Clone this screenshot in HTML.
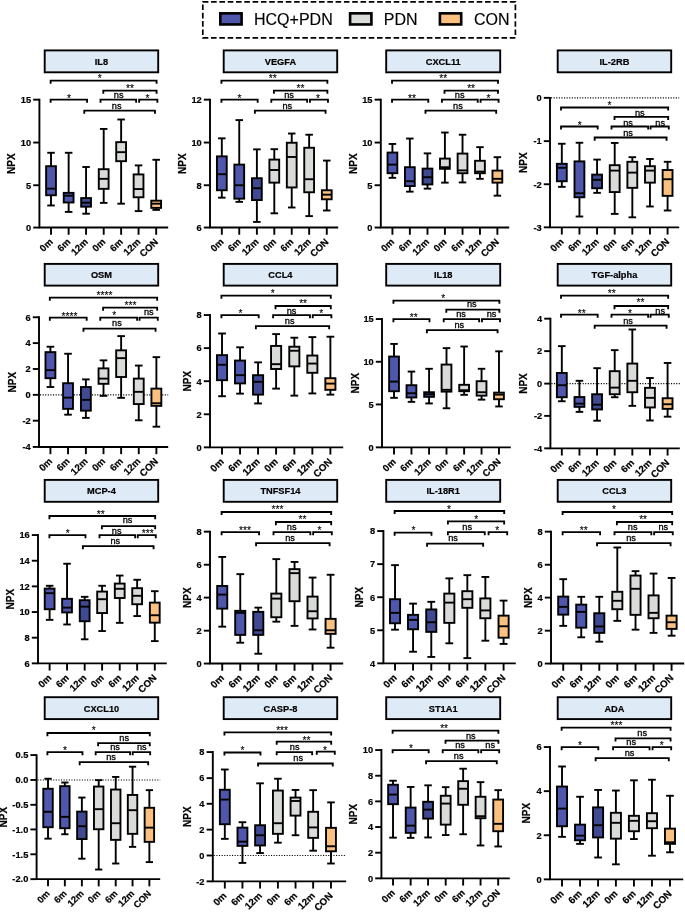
<!DOCTYPE html>
<html><head><meta charset="utf-8"><title>NPX box plots</title>
<style>
html,body{margin:0;padding:0;background:#fff;}
body{width:685px;height:913px;overflow:hidden;font-family:"Liberation Sans",sans-serif;}
svg{display:block;will-change:transform}
svg *{stroke:#000}
text{fill:#000;stroke:#000;paint-order:stroke;stroke-linejoin:round;font-family:"Liberation Sans",sans-serif;}
.b{font-size:9.25px;font-weight:bold;stroke-width:.2px}
.n{font-size:10px;font-weight:bold;stroke-width:.2px}
.x{font-size:9.9px;font-weight:bold;stroke-width:.2px}
.s{font-size:9.2px;stroke-width:.3px}
.a{font-size:10.2px;stroke-width:.12px}
.l{font-size:16px;stroke-width:.15px}
</style></head><body>
<svg width="685" height="913" viewBox="0 0 685 913">
<rect x="0" y="0" width="685" height="913" fill="#fff" stroke="none" style="stroke:none"/>
<rect x="202.8" y="1.8" width="312.6" height="36" fill="none" stroke-width="1.7" stroke-dasharray="5.6 2.7"/>
<rect x="220.3" y="13.35" width="21.3" height="11.1" fill="#4E57AB" stroke-width="2.6"/>
<text class="l" x="254" y="24.9">HCQ+PDN</text>
<rect x="350.1" y="13.35" width="21.3" height="11.1" fill="#D9DBD8" stroke-width="2.6"/>
<text class="l" x="383.8" y="24.9">PDN</text>
<rect x="439.9" y="13.35" width="21.3" height="11.1" fill="#FAC080" stroke-width="2.6"/>
<text class="l" x="474" y="24.9">CON</text>
<g><!-- IL8 -->
<rect x="44.7" y="50.4" width="113.5" height="21.9" fill="#DEEAF6" stroke-width="1.9"/>
<text class="b" x="101.45" y="64.85" text-anchor="middle">IL8</text>
<line x1="51.02" y1="152.77" x2="51.02" y2="166.2" stroke-width="1.9"/>
<line x1="51.02" y1="195.27" x2="51.02" y2="205.49" stroke-width="1.9"/>
<line x1="47.26" y1="152.77" x2="54.79" y2="152.77" stroke-width="1.9"/>
<line x1="47.26" y1="205.49" x2="54.79" y2="205.49" stroke-width="1.9"/>
<rect x="46.12" y="166.2" width="9.81" height="29.06" fill="#4E57AB" stroke-width="1.9"/>
<line x1="46.12" y1="188.65" x2="55.93" y2="188.65" stroke-width="1.9"/>
<line x1="68.65" y1="152.77" x2="68.65" y2="192.86" stroke-width="1.9"/>
<line x1="68.65" y1="202.48" x2="68.65" y2="211.9" stroke-width="1.9"/>
<line x1="64.88" y1="152.77" x2="72.42" y2="152.77" stroke-width="1.9"/>
<line x1="64.88" y1="211.9" x2="72.42" y2="211.9" stroke-width="1.9"/>
<rect x="63.74" y="192.86" width="9.81" height="9.62" fill="#4E57AB" stroke-width="1.9"/>
<line x1="63.74" y1="195.67" x2="73.56" y2="195.67" stroke-width="1.9"/>
<line x1="86.07" y1="167.01" x2="86.07" y2="198.07" stroke-width="1.9"/>
<line x1="86.07" y1="206.69" x2="86.07" y2="213.71" stroke-width="1.9"/>
<line x1="82.31" y1="167.01" x2="89.84" y2="167.01" stroke-width="1.9"/>
<line x1="82.31" y1="213.71" x2="89.84" y2="213.71" stroke-width="1.9"/>
<rect x="81.17" y="198.07" width="9.81" height="8.62" fill="#3F4A92" stroke-width="1.9"/>
<line x1="81.17" y1="202.68" x2="90.98" y2="202.68" stroke-width="1.9"/>
<line x1="103.7" y1="128.92" x2="103.7" y2="169.21" stroke-width="1.9"/>
<line x1="103.7" y1="188.85" x2="103.7" y2="202.88" stroke-width="1.9"/>
<line x1="99.93" y1="128.92" x2="107.47" y2="128.92" stroke-width="1.9"/>
<line x1="99.93" y1="202.88" x2="107.47" y2="202.88" stroke-width="1.9"/>
<rect x="98.79" y="169.21" width="9.81" height="19.64" fill="#D9DBD8" stroke-width="1.9"/>
<line x1="98.79" y1="178.83" x2="108.61" y2="178.83" stroke-width="1.9"/>
<line x1="121.13" y1="119.5" x2="121.13" y2="142.15" stroke-width="1.9"/>
<line x1="121.13" y1="161.19" x2="121.13" y2="203.69" stroke-width="1.9"/>
<line x1="117.36" y1="119.5" x2="124.89" y2="119.5" stroke-width="1.9"/>
<line x1="117.36" y1="203.69" x2="124.89" y2="203.69" stroke-width="1.9"/>
<rect x="116.22" y="142.15" width="9.81" height="19.04" fill="#D9DBD8" stroke-width="1.9"/>
<line x1="116.22" y1="152.17" x2="126.03" y2="152.17" stroke-width="1.9"/>
<line x1="138.55" y1="165.4" x2="138.55" y2="174.42" stroke-width="1.9"/>
<line x1="138.55" y1="197.27" x2="138.55" y2="211.1" stroke-width="1.9"/>
<line x1="134.78" y1="165.4" x2="142.32" y2="165.4" stroke-width="1.9"/>
<line x1="134.78" y1="211.1" x2="142.32" y2="211.1" stroke-width="1.9"/>
<rect x="133.64" y="174.42" width="9.81" height="22.85" fill="#D9DBD8" stroke-width="1.9"/>
<line x1="133.64" y1="189.05" x2="143.46" y2="189.05" stroke-width="1.9"/>
<line x1="156.18" y1="159.79" x2="156.18" y2="200.68" stroke-width="1.9"/>
<line x1="156.18" y1="207.89" x2="156.18" y2="209.9" stroke-width="1.9"/>
<line x1="152.41" y1="159.79" x2="159.94" y2="159.79" stroke-width="1.9"/>
<line x1="152.41" y1="209.9" x2="159.94" y2="209.9" stroke-width="1.9"/>
<rect x="151.27" y="200.68" width="9.81" height="7.22" fill="#FAC080" stroke-width="1.9"/>
<line x1="151.27" y1="203.69" x2="161.08" y2="203.69" stroke-width="1.9"/>
<path d="M39.41 98.71V227.54H168.19" fill="none" stroke-width="1.9"/>
<line x1="33.21" y1="99.66" x2="39.41" y2="99.66" stroke-width="1.9"/>
<text class="b" x="31.11" y="102.96" text-anchor="end">15</text>
<line x1="33.21" y1="142.55" x2="39.41" y2="142.55" stroke-width="1.9"/>
<text class="b" x="31.11" y="145.85" text-anchor="end">10</text>
<line x1="33.21" y1="185.25" x2="39.41" y2="185.25" stroke-width="1.9"/>
<text class="b" x="31.11" y="188.55" text-anchor="end">5</text>
<line x1="33.21" y1="227.54" x2="39.41" y2="227.54" stroke-width="1.9"/>
<text class="b" x="31.11" y="230.84" text-anchor="end">0</text>
<text class="n" transform="translate(14.82,163.6) rotate(-90)" text-anchor="middle">NPX</text>
<line x1="51.02" y1="227.54" x2="51.02" y2="234.74" stroke-width="1.9"/>
<text class="x" style="font-size:9.61px" transform="translate(53.42,242.54) rotate(-45)" text-anchor="end">0m</text>
<line x1="68.65" y1="227.54" x2="68.65" y2="234.74" stroke-width="1.9"/>
<text class="x" style="font-size:9.61px" transform="translate(71.05,242.54) rotate(-45)" text-anchor="end">6m</text>
<line x1="86.07" y1="227.54" x2="86.07" y2="234.74" stroke-width="1.9"/>
<text class="x" style="font-size:9.61px" transform="translate(88.47,242.54) rotate(-45)" text-anchor="end">12m</text>
<line x1="103.7" y1="227.54" x2="103.7" y2="234.74" stroke-width="1.9"/>
<text class="x" style="font-size:9.61px" transform="translate(106.1,242.54) rotate(-45)" text-anchor="end">0m</text>
<line x1="121.13" y1="227.54" x2="121.13" y2="234.74" stroke-width="1.9"/>
<text class="x" style="font-size:9.61px" transform="translate(123.53,242.54) rotate(-45)" text-anchor="end">6m</text>
<line x1="138.55" y1="227.54" x2="138.55" y2="234.74" stroke-width="1.9"/>
<text class="x" style="font-size:9.61px" transform="translate(140.95,242.54) rotate(-45)" text-anchor="end">12m</text>
<line x1="156.18" y1="227.54" x2="156.18" y2="234.74" stroke-width="1.9"/>
<text class="x" style="font-size:9.61px" transform="translate(158.58,242.54) rotate(-45)" text-anchor="end">CON</text>
<path d="M50.62 83.72V80.62H156.58V83.72" fill="none" stroke-width="1.85"/>
<text class="a" x="99.69" y="82.11" text-anchor="middle">*</text>
<path d="M103.3 93.74V90.64H156.58V93.74" fill="none" stroke-width="1.85"/>
<text class="a" x="129.94" y="92.13" text-anchor="middle">**</text>
<path d="M50.62 102.76V99.66H87.08V102.76" fill="none" stroke-width="1.85"/>
<text class="a" x="69.05" y="101.95" text-anchor="middle">*</text>
<path d="M100.5 102.76V99.66H136.15V102.76" fill="none" stroke-width="1.85"/>
<text class="s" x="118.72" y="97.95" text-anchor="middle">ns</text>
<path d="M139.15 102.76V99.66H157.38V102.76" fill="none" stroke-width="1.85"/>
<text class="a" x="147.36" y="101.95" text-anchor="middle">*</text>
<path d="M84.27 113.78V110.68H154.98V113.78" fill="none" stroke-width="1.85"/>
<text class="s" x="116.72" y="108.57" text-anchor="middle">ns</text>
</g>
<g><!-- VEGFA -->
<rect x="223.7" y="50.4" width="113.5" height="21.9" fill="#DEEAF6" stroke-width="1.9"/>
<text class="b" x="280.45" y="64.85" text-anchor="middle">VEGFA</text>
<line x1="221.82" y1="138.34" x2="221.82" y2="156.38" stroke-width="1.9"/>
<line x1="221.82" y1="190.26" x2="221.82" y2="197.67" stroke-width="1.9"/>
<line x1="218.06" y1="138.34" x2="225.59" y2="138.34" stroke-width="1.9"/>
<line x1="218.06" y1="197.67" x2="225.59" y2="197.67" stroke-width="1.9"/>
<rect x="216.93" y="156.38" width="9.8" height="33.87" fill="#4E57AB" stroke-width="1.9"/>
<line x1="216.93" y1="174.22" x2="226.72" y2="174.22" stroke-width="1.9"/>
<line x1="239.25" y1="120.1" x2="239.25" y2="164.6" stroke-width="1.9"/>
<line x1="239.25" y1="198.67" x2="239.25" y2="201.88" stroke-width="1.9"/>
<line x1="235.49" y1="120.1" x2="243.01" y2="120.1" stroke-width="1.9"/>
<line x1="235.49" y1="201.88" x2="243.01" y2="201.88" stroke-width="1.9"/>
<rect x="234.35" y="164.6" width="9.8" height="34.07" fill="#4E57AB" stroke-width="1.9"/>
<line x1="234.35" y1="185.25" x2="244.15" y2="185.25" stroke-width="1.9"/>
<line x1="256.88" y1="149.37" x2="256.88" y2="178.23" stroke-width="1.9"/>
<line x1="256.88" y1="200.08" x2="256.88" y2="221.93" stroke-width="1.9"/>
<line x1="253.11" y1="149.37" x2="260.64" y2="149.37" stroke-width="1.9"/>
<line x1="253.11" y1="221.93" x2="260.64" y2="221.93" stroke-width="1.9"/>
<rect x="251.98" y="178.23" width="9.8" height="21.85" fill="#3F4A92" stroke-width="1.9"/>
<line x1="251.98" y1="188.25" x2="261.77" y2="188.25" stroke-width="1.9"/>
<line x1="274.3" y1="149.17" x2="274.3" y2="159.59" stroke-width="1.9"/>
<line x1="274.3" y1="182.64" x2="274.3" y2="213.31" stroke-width="1.9"/>
<line x1="270.54" y1="149.17" x2="278.06" y2="149.17" stroke-width="1.9"/>
<line x1="270.54" y1="213.31" x2="278.06" y2="213.31" stroke-width="1.9"/>
<rect x="269.4" y="159.59" width="9.8" height="23.05" fill="#D9DBD8" stroke-width="1.9"/>
<line x1="269.4" y1="170.01" x2="279.2" y2="170.01" stroke-width="1.9"/>
<line x1="291.73" y1="133.53" x2="291.73" y2="142.75" stroke-width="1.9"/>
<line x1="291.73" y1="187.45" x2="291.73" y2="207.49" stroke-width="1.9"/>
<line x1="287.97" y1="133.53" x2="295.49" y2="133.53" stroke-width="1.9"/>
<line x1="287.97" y1="207.49" x2="295.49" y2="207.49" stroke-width="1.9"/>
<rect x="286.83" y="142.75" width="9.8" height="44.7" fill="#D9DBD8" stroke-width="1.9"/>
<line x1="286.83" y1="156.98" x2="296.62" y2="156.98" stroke-width="1.9"/>
<line x1="309.15" y1="134.73" x2="309.15" y2="147.76" stroke-width="1.9"/>
<line x1="309.15" y1="192.26" x2="309.15" y2="216.11" stroke-width="1.9"/>
<line x1="305.39" y1="134.73" x2="312.91" y2="134.73" stroke-width="1.9"/>
<line x1="305.39" y1="216.11" x2="312.91" y2="216.11" stroke-width="1.9"/>
<rect x="304.25" y="147.76" width="9.8" height="44.5" fill="#D9DBD8" stroke-width="1.9"/>
<line x1="304.25" y1="179.23" x2="314.05" y2="179.23" stroke-width="1.9"/>
<line x1="326.78" y1="160.59" x2="326.78" y2="190.26" stroke-width="1.9"/>
<line x1="326.78" y1="199.28" x2="326.78" y2="210.5" stroke-width="1.9"/>
<line x1="323.02" y1="160.59" x2="330.54" y2="160.59" stroke-width="1.9"/>
<line x1="323.02" y1="210.5" x2="330.54" y2="210.5" stroke-width="1.9"/>
<rect x="321.88" y="190.26" width="9.8" height="9.02" fill="#FAC080" stroke-width="1.9"/>
<line x1="321.88" y1="194.67" x2="331.68" y2="194.67" stroke-width="1.9"/>
<path d="M210.01 98.71V227.54H338.19" fill="none" stroke-width="1.9"/>
<line x1="203.81" y1="99.66" x2="210.01" y2="99.66" stroke-width="1.9"/>
<text class="b" x="201.71" y="102.96" text-anchor="end">12</text>
<line x1="203.81" y1="142.55" x2="210.01" y2="142.55" stroke-width="1.9"/>
<text class="b" x="201.71" y="145.85" text-anchor="end">10</text>
<line x1="203.81" y1="185.25" x2="210.01" y2="185.25" stroke-width="1.9"/>
<text class="b" x="201.71" y="188.55" text-anchor="end">8</text>
<line x1="203.81" y1="227.54" x2="210.01" y2="227.54" stroke-width="1.9"/>
<text class="b" x="201.71" y="230.84" text-anchor="end">6</text>
<text class="n" transform="translate(186.42,163.6) rotate(-90)" text-anchor="middle">NPX</text>
<line x1="221.82" y1="227.54" x2="221.82" y2="234.74" stroke-width="1.9"/>
<text class="x" style="font-size:9.6px" transform="translate(224.22,242.54) rotate(-45)" text-anchor="end">0m</text>
<line x1="239.25" y1="227.54" x2="239.25" y2="234.74" stroke-width="1.9"/>
<text class="x" style="font-size:9.6px" transform="translate(241.65,242.54) rotate(-45)" text-anchor="end">6m</text>
<line x1="256.88" y1="227.54" x2="256.88" y2="234.74" stroke-width="1.9"/>
<text class="x" style="font-size:9.6px" transform="translate(259.28,242.54) rotate(-45)" text-anchor="end">12m</text>
<line x1="274.3" y1="227.54" x2="274.3" y2="234.74" stroke-width="1.9"/>
<text class="x" style="font-size:9.6px" transform="translate(276.7,242.54) rotate(-45)" text-anchor="end">0m</text>
<line x1="291.73" y1="227.54" x2="291.73" y2="234.74" stroke-width="1.9"/>
<text class="x" style="font-size:9.6px" transform="translate(294.13,242.54) rotate(-45)" text-anchor="end">6m</text>
<line x1="309.15" y1="227.54" x2="309.15" y2="234.74" stroke-width="1.9"/>
<text class="x" style="font-size:9.6px" transform="translate(311.55,242.54) rotate(-45)" text-anchor="end">12m</text>
<line x1="326.78" y1="227.54" x2="326.78" y2="234.74" stroke-width="1.9"/>
<text class="x" style="font-size:9.6px" transform="translate(329.18,242.54) rotate(-45)" text-anchor="end">CON</text>
<path d="M221.42 83.72V80.62H327.38V83.72" fill="none" stroke-width="1.85"/>
<text class="a" x="272.7" y="82.11" text-anchor="middle">**</text>
<path d="M273.9 93.74V90.64H327.38V93.74" fill="none" stroke-width="1.85"/>
<text class="a" x="300.54" y="92.13" text-anchor="middle">**</text>
<path d="M221.42 102.76V99.66H257.68V102.76" fill="none" stroke-width="1.85"/>
<text class="a" x="239.45" y="101.95" text-anchor="middle">*</text>
<path d="M271.3 102.76V99.66H307.15V102.76" fill="none" stroke-width="1.85"/>
<text class="s" x="289.12" y="97.95" text-anchor="middle">ns</text>
<path d="M309.95 102.76V99.66H327.98V102.76" fill="none" stroke-width="1.85"/>
<text class="a" x="317.96" y="101.95" text-anchor="middle">*</text>
<path d="M254.87 113.78V110.68H325.58V113.78" fill="none" stroke-width="1.85"/>
<text class="s" x="287.32" y="108.57" text-anchor="middle">ns</text>
</g>
<g><!-- CXCL11 -->
<rect x="386.2" y="50.4" width="114" height="21.9" fill="#DEEAF6" stroke-width="1.9"/>
<text class="b" x="443.2" y="64.85" text-anchor="middle">CXCL11</text>
<line x1="392.42" y1="143.96" x2="392.42" y2="152.57" stroke-width="1.9"/>
<line x1="392.42" y1="173.22" x2="392.42" y2="177.83" stroke-width="1.9"/>
<line x1="388.66" y1="143.96" x2="396.18" y2="143.96" stroke-width="1.9"/>
<line x1="388.66" y1="177.83" x2="396.18" y2="177.83" stroke-width="1.9"/>
<rect x="387.53" y="152.57" width="9.8" height="20.65" fill="#4E57AB" stroke-width="1.9"/>
<line x1="387.53" y1="164.6" x2="397.32" y2="164.6" stroke-width="1.9"/>
<line x1="409.85" y1="138.54" x2="409.85" y2="167.21" stroke-width="1.9"/>
<line x1="409.85" y1="186.05" x2="409.85" y2="191.66" stroke-width="1.9"/>
<line x1="406.09" y1="138.54" x2="413.61" y2="138.54" stroke-width="1.9"/>
<line x1="406.09" y1="191.66" x2="413.61" y2="191.66" stroke-width="1.9"/>
<rect x="404.95" y="167.21" width="9.8" height="18.84" fill="#4E57AB" stroke-width="1.9"/>
<line x1="404.95" y1="181.24" x2="414.75" y2="181.24" stroke-width="1.9"/>
<line x1="427.48" y1="153.38" x2="427.48" y2="168.61" stroke-width="1.9"/>
<line x1="427.48" y1="184.44" x2="427.48" y2="188.65" stroke-width="1.9"/>
<line x1="423.71" y1="153.38" x2="431.24" y2="153.38" stroke-width="1.9"/>
<line x1="423.71" y1="188.65" x2="431.24" y2="188.65" stroke-width="1.9"/>
<rect x="422.58" y="168.61" width="9.8" height="15.83" fill="#3F4A92" stroke-width="1.9"/>
<line x1="422.58" y1="177.23" x2="432.37" y2="177.23" stroke-width="1.9"/>
<line x1="444.9" y1="132.53" x2="444.9" y2="158.59" stroke-width="1.9"/>
<line x1="444.9" y1="168.81" x2="444.9" y2="182.64" stroke-width="1.9"/>
<line x1="441.14" y1="132.53" x2="448.66" y2="132.53" stroke-width="1.9"/>
<line x1="441.14" y1="182.64" x2="448.66" y2="182.64" stroke-width="1.9"/>
<rect x="440" y="158.59" width="9.8" height="10.22" fill="#D9DBD8" stroke-width="1.9"/>
<line x1="440" y1="167.21" x2="449.8" y2="167.21" stroke-width="1.9"/>
<line x1="462.53" y1="134.73" x2="462.53" y2="153.58" stroke-width="1.9"/>
<line x1="462.53" y1="173.22" x2="462.53" y2="182.44" stroke-width="1.9"/>
<line x1="458.77" y1="134.73" x2="466.29" y2="134.73" stroke-width="1.9"/>
<line x1="458.77" y1="182.44" x2="466.29" y2="182.44" stroke-width="1.9"/>
<rect x="457.63" y="153.58" width="9.8" height="19.64" fill="#D9DBD8" stroke-width="1.9"/>
<line x1="457.63" y1="170.41" x2="467.42" y2="170.41" stroke-width="1.9"/>
<line x1="479.95" y1="147.16" x2="479.95" y2="160.79" stroke-width="1.9"/>
<line x1="479.95" y1="173.22" x2="479.95" y2="178.83" stroke-width="1.9"/>
<line x1="476.19" y1="147.16" x2="483.71" y2="147.16" stroke-width="1.9"/>
<line x1="476.19" y1="178.83" x2="483.71" y2="178.83" stroke-width="1.9"/>
<rect x="475.05" y="160.79" width="9.8" height="12.43" fill="#D9DBD8" stroke-width="1.9"/>
<line x1="475.05" y1="171.62" x2="484.85" y2="171.62" stroke-width="1.9"/>
<line x1="497.38" y1="157.18" x2="497.38" y2="170.61" stroke-width="1.9"/>
<line x1="497.38" y1="182.64" x2="497.38" y2="195.67" stroke-width="1.9"/>
<line x1="493.62" y1="157.18" x2="501.14" y2="157.18" stroke-width="1.9"/>
<line x1="493.62" y1="195.67" x2="501.14" y2="195.67" stroke-width="1.9"/>
<rect x="492.48" y="170.61" width="9.8" height="12.03" fill="#FAC080" stroke-width="1.9"/>
<line x1="492.48" y1="178.83" x2="502.28" y2="178.83" stroke-width="1.9"/>
<path d="M380.81 98.71V227.54H509.19" fill="none" stroke-width="1.9"/>
<line x1="374.61" y1="99.66" x2="380.81" y2="99.66" stroke-width="1.9"/>
<text class="b" x="372.51" y="102.96" text-anchor="end">15</text>
<line x1="374.61" y1="142.55" x2="380.81" y2="142.55" stroke-width="1.9"/>
<text class="b" x="372.51" y="145.85" text-anchor="end">10</text>
<line x1="374.61" y1="185.25" x2="380.81" y2="185.25" stroke-width="1.9"/>
<text class="b" x="372.51" y="188.55" text-anchor="end">5</text>
<line x1="374.61" y1="227.54" x2="380.81" y2="227.54" stroke-width="1.9"/>
<text class="b" x="372.51" y="230.84" text-anchor="end">0</text>
<text class="n" transform="translate(357.22,163.6) rotate(-90)" text-anchor="middle">NPX</text>
<line x1="392.42" y1="227.54" x2="392.42" y2="234.74" stroke-width="1.9"/>
<text class="x" style="font-size:9.6px" transform="translate(394.82,242.54) rotate(-45)" text-anchor="end">0m</text>
<line x1="409.85" y1="227.54" x2="409.85" y2="234.74" stroke-width="1.9"/>
<text class="x" style="font-size:9.6px" transform="translate(412.25,242.54) rotate(-45)" text-anchor="end">6m</text>
<line x1="427.48" y1="227.54" x2="427.48" y2="234.74" stroke-width="1.9"/>
<text class="x" style="font-size:9.6px" transform="translate(429.88,242.54) rotate(-45)" text-anchor="end">12m</text>
<line x1="444.9" y1="227.54" x2="444.9" y2="234.74" stroke-width="1.9"/>
<text class="x" style="font-size:9.6px" transform="translate(447.3,242.54) rotate(-45)" text-anchor="end">0m</text>
<line x1="462.53" y1="227.54" x2="462.53" y2="234.74" stroke-width="1.9"/>
<text class="x" style="font-size:9.6px" transform="translate(464.93,242.54) rotate(-45)" text-anchor="end">6m</text>
<line x1="479.95" y1="227.54" x2="479.95" y2="234.74" stroke-width="1.9"/>
<text class="x" style="font-size:9.6px" transform="translate(482.35,242.54) rotate(-45)" text-anchor="end">12m</text>
<line x1="497.38" y1="227.54" x2="497.38" y2="234.74" stroke-width="1.9"/>
<text class="x" style="font-size:9.6px" transform="translate(499.78,242.54) rotate(-45)" text-anchor="end">CON</text>
<path d="M392.02 83.72V80.62H497.98V83.72" fill="none" stroke-width="1.85"/>
<text class="a" x="443.3" y="82.11" text-anchor="middle">**</text>
<path d="M444.5 93.74V90.64H497.98V93.74" fill="none" stroke-width="1.85"/>
<text class="a" x="471.14" y="92.13" text-anchor="middle">**</text>
<path d="M392.02 102.76V99.66H428.28V102.76" fill="none" stroke-width="1.85"/>
<text class="a" x="412.05" y="101.95" text-anchor="middle">**</text>
<path d="M441.9 102.76V99.66H477.75V102.76" fill="none" stroke-width="1.85"/>
<text class="s" x="459.72" y="97.95" text-anchor="middle">ns</text>
<path d="M480.55 102.76V99.66H498.58V102.76" fill="none" stroke-width="1.85"/>
<text class="a" x="488.56" y="101.95" text-anchor="middle">*</text>
<path d="M425.47 113.78V110.68H496.18V113.78" fill="none" stroke-width="1.85"/>
<text class="s" x="457.92" y="108.57" text-anchor="middle">ns</text>
</g>
<g><!-- IL-2RB -->
<rect x="557.7" y="50.4" width="113.5" height="21.9" fill="#DEEAF6" stroke-width="1.9"/>
<text class="b" x="614.45" y="64.85" text-anchor="middle">IL-2RB</text>
<line x1="551.01" y1="97.85" x2="679.19" y2="97.85" stroke-width="1.1" stroke-dasharray="1.1 1.5"/>
<line x1="561.82" y1="143.75" x2="561.82" y2="163.8" stroke-width="1.9"/>
<line x1="561.82" y1="181.24" x2="561.82" y2="186.85" stroke-width="1.9"/>
<line x1="558.03" y1="143.75" x2="565.61" y2="143.75" stroke-width="1.9"/>
<line x1="558.03" y1="186.85" x2="565.61" y2="186.85" stroke-width="1.9"/>
<rect x="556.89" y="163.8" width="9.87" height="17.44" fill="#4E57AB" stroke-width="1.9"/>
<line x1="556.89" y1="167.81" x2="566.76" y2="167.81" stroke-width="1.9"/>
<line x1="579.45" y1="142.75" x2="579.45" y2="161.39" stroke-width="1.9"/>
<line x1="579.45" y1="197.27" x2="579.45" y2="216.51" stroke-width="1.9"/>
<line x1="575.66" y1="142.75" x2="583.24" y2="142.75" stroke-width="1.9"/>
<line x1="575.66" y1="216.51" x2="583.24" y2="216.51" stroke-width="1.9"/>
<rect x="574.51" y="161.39" width="9.87" height="35.88" fill="#4E57AB" stroke-width="1.9"/>
<line x1="574.51" y1="193.26" x2="584.38" y2="193.26" stroke-width="1.9"/>
<line x1="597.07" y1="159.59" x2="597.07" y2="174.62" stroke-width="1.9"/>
<line x1="597.07" y1="188.25" x2="597.07" y2="192.86" stroke-width="1.9"/>
<line x1="593.29" y1="159.59" x2="600.86" y2="159.59" stroke-width="1.9"/>
<line x1="593.29" y1="192.86" x2="600.86" y2="192.86" stroke-width="1.9"/>
<rect x="592.14" y="174.62" width="9.87" height="13.63" fill="#3F4A92" stroke-width="1.9"/>
<line x1="592.14" y1="179.83" x2="602.01" y2="179.83" stroke-width="1.9"/>
<line x1="614.7" y1="142.95" x2="614.7" y2="165.2" stroke-width="1.9"/>
<line x1="614.7" y1="192.06" x2="614.7" y2="213.91" stroke-width="1.9"/>
<line x1="610.91" y1="142.95" x2="618.49" y2="142.95" stroke-width="1.9"/>
<line x1="610.91" y1="213.91" x2="618.49" y2="213.91" stroke-width="1.9"/>
<rect x="609.77" y="165.2" width="9.87" height="26.86" fill="#D9DBD8" stroke-width="1.9"/>
<line x1="609.77" y1="170.61" x2="619.64" y2="170.61" stroke-width="1.9"/>
<line x1="632.33" y1="157.18" x2="632.33" y2="161.79" stroke-width="1.9"/>
<line x1="632.33" y1="187.85" x2="632.33" y2="217.32" stroke-width="1.9"/>
<line x1="628.54" y1="157.18" x2="636.12" y2="157.18" stroke-width="1.9"/>
<line x1="628.54" y1="217.32" x2="636.12" y2="217.32" stroke-width="1.9"/>
<rect x="627.39" y="161.79" width="9.87" height="26.06" fill="#D9DBD8" stroke-width="1.9"/>
<line x1="627.39" y1="172.62" x2="637.26" y2="172.62" stroke-width="1.9"/>
<line x1="649.95" y1="158.99" x2="649.95" y2="166.2" stroke-width="1.9"/>
<line x1="649.95" y1="182.64" x2="649.95" y2="206.49" stroke-width="1.9"/>
<line x1="646.16" y1="158.99" x2="653.74" y2="158.99" stroke-width="1.9"/>
<line x1="646.16" y1="206.49" x2="653.74" y2="206.49" stroke-width="1.9"/>
<rect x="645.02" y="166.2" width="9.87" height="16.44" fill="#D9DBD8" stroke-width="1.9"/>
<line x1="645.02" y1="170.61" x2="654.89" y2="170.61" stroke-width="1.9"/>
<line x1="667.58" y1="161.79" x2="667.58" y2="170.01" stroke-width="1.9"/>
<line x1="667.58" y1="195.87" x2="667.58" y2="210.5" stroke-width="1.9"/>
<line x1="663.79" y1="161.79" x2="671.37" y2="161.79" stroke-width="1.9"/>
<line x1="663.79" y1="210.5" x2="671.37" y2="210.5" stroke-width="1.9"/>
<rect x="662.64" y="170.01" width="9.87" height="25.86" fill="#FAC080" stroke-width="1.9"/>
<line x1="662.64" y1="179.23" x2="672.51" y2="179.23" stroke-width="1.9"/>
<path d="M550.01 96.9V227.34H679.19" fill="none" stroke-width="1.9"/>
<line x1="543.81" y1="97.85" x2="550.01" y2="97.85" stroke-width="1.9"/>
<text class="b" x="541.71" y="101.15" text-anchor="end">0</text>
<line x1="543.81" y1="141.15" x2="550.01" y2="141.15" stroke-width="1.9"/>
<text class="b" x="541.71" y="144.45" text-anchor="end">-1</text>
<line x1="543.81" y1="184.24" x2="550.01" y2="184.24" stroke-width="1.9"/>
<text class="b" x="541.71" y="187.54" text-anchor="end">-2</text>
<line x1="543.81" y1="227.34" x2="550.01" y2="227.34" stroke-width="1.9"/>
<text class="b" x="541.71" y="230.64" text-anchor="end">-3</text>
<text class="n" transform="translate(527.48,162.6) rotate(-90)" text-anchor="middle">NPX</text>
<line x1="561.82" y1="227.34" x2="561.82" y2="234.54" stroke-width="1.9"/>
<text class="x" style="font-size:9.67px" transform="translate(564.22,242.34) rotate(-45)" text-anchor="end">0m</text>
<line x1="579.45" y1="227.34" x2="579.45" y2="234.54" stroke-width="1.9"/>
<text class="x" style="font-size:9.67px" transform="translate(581.85,242.34) rotate(-45)" text-anchor="end">6m</text>
<line x1="597.07" y1="227.34" x2="597.07" y2="234.54" stroke-width="1.9"/>
<text class="x" style="font-size:9.67px" transform="translate(599.47,242.34) rotate(-45)" text-anchor="end">12m</text>
<line x1="614.7" y1="227.34" x2="614.7" y2="234.54" stroke-width="1.9"/>
<text class="x" style="font-size:9.67px" transform="translate(617.1,242.34) rotate(-45)" text-anchor="end">0m</text>
<line x1="632.33" y1="227.34" x2="632.33" y2="234.54" stroke-width="1.9"/>
<text class="x" style="font-size:9.67px" transform="translate(634.73,242.34) rotate(-45)" text-anchor="end">6m</text>
<line x1="649.95" y1="227.34" x2="649.95" y2="234.54" stroke-width="1.9"/>
<text class="x" style="font-size:9.67px" transform="translate(652.35,242.34) rotate(-45)" text-anchor="end">12m</text>
<line x1="667.58" y1="227.34" x2="667.58" y2="234.54" stroke-width="1.9"/>
<text class="x" style="font-size:9.67px" transform="translate(669.98,242.34) rotate(-45)" text-anchor="end">CON</text>
<path d="M561.02 110.58V107.48H668.18V110.58" fill="none" stroke-width="1.85"/>
<text class="a" x="609.49" y="108.57" text-anchor="middle">*</text>
<path d="M614.5 120V116.9H668.18V120" fill="none" stroke-width="1.85"/>
<text class="s" x="639.74" y="115.59" text-anchor="middle">ns</text>
<path d="M561.02 129.62V126.52H597.68V129.62" fill="none" stroke-width="1.85"/>
<text class="a" x="579.65" y="128.61" text-anchor="middle">*</text>
<path d="M611.5 129.62V126.52H648.15V129.62" fill="none" stroke-width="1.85"/>
<text class="s" x="628.12" y="125.61" text-anchor="middle">ns</text>
<path d="M650.55 129.62V126.52H668.78V129.62" fill="none" stroke-width="1.85"/>
<text class="s" x="660.17" y="125.61" text-anchor="middle">ns</text>
<path d="M594.67 140.64V137.54H666.58V140.64" fill="none" stroke-width="1.85"/>
<text class="s" x="628.12" y="135.63" text-anchor="middle">ns</text>
</g>
<g><!-- OSM -->
<rect x="44.7" y="263.9" width="113.5" height="21.7" fill="#DEEAF6" stroke-width="1.9"/>
<text class="b" x="101.45" y="278.25" text-anchor="middle">OSM</text>
<line x1="40.01" y1="394.83" x2="168.19" y2="394.83" stroke-width="1.1" stroke-dasharray="1.1 1.5"/>
<line x1="50.42" y1="346.73" x2="50.42" y2="352.14" stroke-width="1.9"/>
<line x1="50.42" y1="378.2" x2="50.42" y2="387.02" stroke-width="1.9"/>
<line x1="46.63" y1="346.73" x2="54.22" y2="346.73" stroke-width="1.9"/>
<line x1="46.63" y1="387.02" x2="54.22" y2="387.02" stroke-width="1.9"/>
<rect x="45.48" y="352.14" width="9.89" height="26.06" fill="#4E57AB" stroke-width="1.9"/>
<line x1="45.48" y1="370.18" x2="55.37" y2="370.18" stroke-width="1.9"/>
<line x1="68.05" y1="353.74" x2="68.05" y2="383.21" stroke-width="1.9"/>
<line x1="68.05" y1="408.86" x2="68.05" y2="414.68" stroke-width="1.9"/>
<line x1="64.25" y1="353.74" x2="71.84" y2="353.74" stroke-width="1.9"/>
<line x1="64.25" y1="414.68" x2="71.84" y2="414.68" stroke-width="1.9"/>
<rect x="63.1" y="383.21" width="9.89" height="25.66" fill="#4E57AB" stroke-width="1.9"/>
<line x1="63.1" y1="397.64" x2="72.99" y2="397.64" stroke-width="1.9"/>
<line x1="85.87" y1="379.4" x2="85.87" y2="387.02" stroke-width="1.9"/>
<line x1="85.87" y1="410.67" x2="85.87" y2="417.88" stroke-width="1.9"/>
<line x1="82.08" y1="379.4" x2="89.67" y2="379.4" stroke-width="1.9"/>
<line x1="82.08" y1="417.88" x2="89.67" y2="417.88" stroke-width="1.9"/>
<rect x="80.93" y="387.02" width="9.89" height="23.65" fill="#3F4A92" stroke-width="1.9"/>
<line x1="80.93" y1="399.84" x2="90.82" y2="399.84" stroke-width="1.9"/>
<line x1="103.5" y1="360.36" x2="103.5" y2="368.38" stroke-width="1.9"/>
<line x1="103.5" y1="383.81" x2="103.5" y2="395.84" stroke-width="1.9"/>
<line x1="99.7" y1="360.36" x2="107.3" y2="360.36" stroke-width="1.9"/>
<line x1="99.7" y1="395.84" x2="107.3" y2="395.84" stroke-width="1.9"/>
<rect x="98.56" y="368.38" width="9.89" height="15.43" fill="#D9DBD8" stroke-width="1.9"/>
<line x1="98.56" y1="378.6" x2="108.44" y2="378.6" stroke-width="1.9"/>
<line x1="121.13" y1="336.11" x2="121.13" y2="350.34" stroke-width="1.9"/>
<line x1="121.13" y1="376.99" x2="121.13" y2="397.84" stroke-width="1.9"/>
<line x1="117.33" y1="336.11" x2="124.92" y2="336.11" stroke-width="1.9"/>
<line x1="117.33" y1="397.84" x2="124.92" y2="397.84" stroke-width="1.9"/>
<rect x="116.18" y="350.34" width="9.89" height="26.66" fill="#D9DBD8" stroke-width="1.9"/>
<line x1="116.18" y1="358.15" x2="126.07" y2="358.15" stroke-width="1.9"/>
<line x1="138.75" y1="365.57" x2="138.75" y2="378.6" stroke-width="1.9"/>
<line x1="138.75" y1="404.05" x2="138.75" y2="420.29" stroke-width="1.9"/>
<line x1="134.95" y1="365.57" x2="142.55" y2="365.57" stroke-width="1.9"/>
<line x1="134.95" y1="420.29" x2="142.55" y2="420.29" stroke-width="1.9"/>
<rect x="133.81" y="378.6" width="9.89" height="25.46" fill="#D9DBD8" stroke-width="1.9"/>
<line x1="133.81" y1="391.83" x2="143.7" y2="391.83" stroke-width="1.9"/>
<line x1="156.38" y1="357.15" x2="156.38" y2="388.62" stroke-width="1.9"/>
<line x1="156.38" y1="405.86" x2="156.38" y2="426.7" stroke-width="1.9"/>
<line x1="152.58" y1="357.15" x2="160.17" y2="357.15" stroke-width="1.9"/>
<line x1="152.58" y1="426.7" x2="160.17" y2="426.7" stroke-width="1.9"/>
<rect x="151.43" y="388.62" width="9.89" height="17.24" fill="#FAC080" stroke-width="1.9"/>
<line x1="151.43" y1="403.25" x2="161.32" y2="403.25" stroke-width="1.9"/>
<path d="M39.01 316.31V446.95H168.19" fill="none" stroke-width="1.9"/>
<line x1="32.81" y1="317.26" x2="39.01" y2="317.26" stroke-width="1.9"/>
<text class="b" x="30.71" y="320.56" text-anchor="end">6</text>
<line x1="32.81" y1="343.12" x2="39.01" y2="343.12" stroke-width="1.9"/>
<text class="b" x="30.71" y="346.42" text-anchor="end">4</text>
<line x1="32.81" y1="368.98" x2="39.01" y2="368.98" stroke-width="1.9"/>
<text class="b" x="30.71" y="372.28" text-anchor="end">2</text>
<line x1="32.81" y1="394.83" x2="39.01" y2="394.83" stroke-width="1.9"/>
<text class="b" x="30.71" y="398.13" text-anchor="end">0</text>
<line x1="32.81" y1="420.69" x2="39.01" y2="420.69" stroke-width="1.9"/>
<text class="b" x="30.71" y="423.99" text-anchor="end">-2</text>
<line x1="32.81" y1="446.95" x2="39.01" y2="446.95" stroke-width="1.9"/>
<text class="b" x="30.71" y="450.25" text-anchor="end">-4</text>
<text class="n" transform="translate(16.48,382.11) rotate(-90)" text-anchor="middle">NPX</text>
<line x1="50.42" y1="446.95" x2="50.42" y2="454.15" stroke-width="1.9"/>
<text class="x" style="font-size:9.69px" transform="translate(52.82,461.95) rotate(-45)" text-anchor="end">0m</text>
<line x1="68.05" y1="446.95" x2="68.05" y2="454.15" stroke-width="1.9"/>
<text class="x" style="font-size:9.69px" transform="translate(70.45,461.95) rotate(-45)" text-anchor="end">6m</text>
<line x1="85.87" y1="446.95" x2="85.87" y2="454.15" stroke-width="1.9"/>
<text class="x" style="font-size:9.69px" transform="translate(88.27,461.95) rotate(-45)" text-anchor="end">12m</text>
<line x1="103.5" y1="446.95" x2="103.5" y2="454.15" stroke-width="1.9"/>
<text class="x" style="font-size:9.69px" transform="translate(105.9,461.95) rotate(-45)" text-anchor="end">0m</text>
<line x1="121.13" y1="446.95" x2="121.13" y2="454.15" stroke-width="1.9"/>
<text class="x" style="font-size:9.69px" transform="translate(123.53,461.95) rotate(-45)" text-anchor="end">6m</text>
<line x1="138.75" y1="446.95" x2="138.75" y2="454.15" stroke-width="1.9"/>
<text class="x" style="font-size:9.69px" transform="translate(141.15,461.95) rotate(-45)" text-anchor="end">12m</text>
<line x1="156.38" y1="446.95" x2="156.38" y2="454.15" stroke-width="1.9"/>
<text class="x" style="font-size:9.69px" transform="translate(158.78,461.95) rotate(-45)" text-anchor="end">CON</text>
<path d="M49.82 300.72V297.62H157.18V300.72" fill="none" stroke-width="1.85"/>
<text class="a" x="104.5" y="298.51" text-anchor="middle">****</text>
<path d="M103.1 310.74V307.64H157.18V310.74" fill="none" stroke-width="1.85"/>
<text class="a" x="130.54" y="309.13" text-anchor="middle">***</text>
<path d="M49.82 320.76V317.66H86.68V320.76" fill="none" stroke-width="1.85"/>
<text class="a" x="69.45" y="319.56" text-anchor="middle">****</text>
<path d="M100.3 320.76V317.66H137.15V320.76" fill="none" stroke-width="1.85"/>
<text class="a" x="114.32" y="319.16" text-anchor="middle">*</text>
<path d="M139.55 320.76V317.66H157.78V320.76" fill="none" stroke-width="1.85"/>
<text class="s" x="148.77" y="315.35" text-anchor="middle">ns</text>
<path d="M83.47 331.79V328.69H155.58V331.79" fill="none" stroke-width="1.85"/>
<text class="s" x="116.92" y="326.18" text-anchor="middle">ns</text>
</g>
<g><!-- CCL4 -->
<rect x="223.7" y="263.9" width="113.5" height="21.7" fill="#DEEAF6" stroke-width="1.9"/>
<text class="b" x="280.45" y="278.25" text-anchor="middle">CCL4</text>
<line x1="222.02" y1="333.5" x2="222.02" y2="355.15" stroke-width="1.9"/>
<line x1="222.02" y1="380.2" x2="222.02" y2="396.24" stroke-width="1.9"/>
<line x1="218.14" y1="333.5" x2="225.91" y2="333.5" stroke-width="1.9"/>
<line x1="218.14" y1="396.24" x2="225.91" y2="396.24" stroke-width="1.9"/>
<rect x="216.97" y="355.15" width="10.11" height="25.05" fill="#4E57AB" stroke-width="1.9"/>
<line x1="216.97" y1="364.77" x2="227.08" y2="364.77" stroke-width="1.9"/>
<line x1="240.05" y1="347.33" x2="240.05" y2="360.56" stroke-width="1.9"/>
<line x1="240.05" y1="383.41" x2="240.05" y2="393.63" stroke-width="1.9"/>
<line x1="236.17" y1="347.33" x2="243.93" y2="347.33" stroke-width="1.9"/>
<line x1="236.17" y1="393.63" x2="243.93" y2="393.63" stroke-width="1.9"/>
<rect x="234.99" y="360.56" width="10.11" height="22.85" fill="#4E57AB" stroke-width="1.9"/>
<line x1="234.99" y1="375.19" x2="245.11" y2="375.19" stroke-width="1.9"/>
<line x1="258.08" y1="362.36" x2="258.08" y2="375.19" stroke-width="1.9"/>
<line x1="258.08" y1="394.63" x2="258.08" y2="403.45" stroke-width="1.9"/>
<line x1="254.19" y1="362.36" x2="261.96" y2="362.36" stroke-width="1.9"/>
<line x1="254.19" y1="403.45" x2="261.96" y2="403.45" stroke-width="1.9"/>
<rect x="253.02" y="375.19" width="10.11" height="19.44" fill="#3F4A92" stroke-width="1.9"/>
<line x1="253.02" y1="381.81" x2="263.13" y2="381.81" stroke-width="1.9"/>
<line x1="276.1" y1="334.1" x2="276.1" y2="345.93" stroke-width="1.9"/>
<line x1="276.1" y1="368.98" x2="276.1" y2="388.62" stroke-width="1.9"/>
<line x1="272.22" y1="334.1" x2="279.99" y2="334.1" stroke-width="1.9"/>
<line x1="272.22" y1="388.62" x2="279.99" y2="388.62" stroke-width="1.9"/>
<rect x="271.05" y="345.93" width="10.11" height="23.05" fill="#D9DBD8" stroke-width="1.9"/>
<line x1="271.05" y1="364.17" x2="281.16" y2="364.17" stroke-width="1.9"/>
<line x1="294.33" y1="337.71" x2="294.33" y2="346.73" stroke-width="1.9"/>
<line x1="294.33" y1="366.37" x2="294.33" y2="395.64" stroke-width="1.9"/>
<line x1="290.45" y1="337.71" x2="298.21" y2="337.71" stroke-width="1.9"/>
<line x1="290.45" y1="395.64" x2="298.21" y2="395.64" stroke-width="1.9"/>
<rect x="289.27" y="346.73" width="10.11" height="19.64" fill="#D9DBD8" stroke-width="1.9"/>
<line x1="289.27" y1="350.74" x2="299.39" y2="350.74" stroke-width="1.9"/>
<line x1="312.36" y1="337.11" x2="312.36" y2="355.55" stroke-width="1.9"/>
<line x1="312.36" y1="372.79" x2="312.36" y2="393.43" stroke-width="1.9"/>
<line x1="308.47" y1="337.11" x2="316.24" y2="337.11" stroke-width="1.9"/>
<line x1="308.47" y1="393.43" x2="316.24" y2="393.43" stroke-width="1.9"/>
<rect x="307.3" y="355.55" width="10.11" height="17.24" fill="#D9DBD8" stroke-width="1.9"/>
<line x1="307.3" y1="363.57" x2="317.41" y2="363.57" stroke-width="1.9"/>
<line x1="330.38" y1="336.71" x2="330.38" y2="378.2" stroke-width="1.9"/>
<line x1="330.38" y1="389.82" x2="330.38" y2="394.63" stroke-width="1.9"/>
<line x1="326.5" y1="336.71" x2="334.27" y2="336.71" stroke-width="1.9"/>
<line x1="326.5" y1="394.63" x2="334.27" y2="394.63" stroke-width="1.9"/>
<rect x="325.33" y="378.2" width="10.11" height="11.63" fill="#FAC080" stroke-width="1.9"/>
<line x1="325.33" y1="383.61" x2="335.44" y2="383.61" stroke-width="1.9"/>
<path d="M210.01 314.11V447.35H343.2" fill="none" stroke-width="1.9"/>
<line x1="203.81" y1="315.06" x2="210.01" y2="315.06" stroke-width="1.9"/>
<text class="b" x="201.71" y="318.36" text-anchor="end">8</text>
<line x1="203.81" y1="348.13" x2="210.01" y2="348.13" stroke-width="1.9"/>
<text class="b" x="201.71" y="351.43" text-anchor="end">6</text>
<line x1="203.81" y1="381.2" x2="210.01" y2="381.2" stroke-width="1.9"/>
<text class="b" x="201.71" y="384.5" text-anchor="end">4</text>
<line x1="203.81" y1="414.28" x2="210.01" y2="414.28" stroke-width="1.9"/>
<text class="b" x="201.71" y="417.58" text-anchor="end">2</text>
<line x1="203.81" y1="447.35" x2="210.01" y2="447.35" stroke-width="1.9"/>
<text class="b" x="201.71" y="450.65" text-anchor="end">0</text>
<text class="n" transform="translate(190.56,381.2) rotate(-90)" text-anchor="middle">NPX</text>
<line x1="222.02" y1="447.35" x2="222.02" y2="454.55" stroke-width="1.9"/>
<text class="x" style="font-size:9.91px" transform="translate(224.42,462.35) rotate(-45)" text-anchor="end">0m</text>
<line x1="240.05" y1="447.35" x2="240.05" y2="454.55" stroke-width="1.9"/>
<text class="x" style="font-size:9.91px" transform="translate(242.45,462.35) rotate(-45)" text-anchor="end">6m</text>
<line x1="258.08" y1="447.35" x2="258.08" y2="454.55" stroke-width="1.9"/>
<text class="x" style="font-size:9.91px" transform="translate(260.48,462.35) rotate(-45)" text-anchor="end">12m</text>
<line x1="276.1" y1="447.35" x2="276.1" y2="454.55" stroke-width="1.9"/>
<text class="x" style="font-size:9.91px" transform="translate(278.5,462.35) rotate(-45)" text-anchor="end">0m</text>
<line x1="294.33" y1="447.35" x2="294.33" y2="454.55" stroke-width="1.9"/>
<text class="x" style="font-size:9.91px" transform="translate(296.73,462.35) rotate(-45)" text-anchor="end">6m</text>
<line x1="312.36" y1="447.35" x2="312.36" y2="454.55" stroke-width="1.9"/>
<text class="x" style="font-size:9.91px" transform="translate(314.76,462.35) rotate(-45)" text-anchor="end">12m</text>
<line x1="330.38" y1="447.35" x2="330.38" y2="454.55" stroke-width="1.9"/>
<text class="x" style="font-size:9.91px" transform="translate(332.78,462.35) rotate(-45)" text-anchor="end">CON</text>
<path d="M221.42 298.72V295.62H330.78V298.72" fill="none" stroke-width="1.85"/>
<text class="a" x="272.7" y="296.71" text-anchor="middle">*</text>
<path d="M275.5 309.14V306.04H330.78V309.14" fill="none" stroke-width="1.85"/>
<text class="a" x="303.14" y="307.13" text-anchor="middle">**</text>
<path d="M221.42 318.16V315.06H258.68V318.16" fill="none" stroke-width="1.85"/>
<text class="a" x="240.45" y="317.15" text-anchor="middle">*</text>
<path d="M273.1 318.16V315.06H309.95V318.16" fill="none" stroke-width="1.85"/>
<text class="s" x="291.53" y="313.55" text-anchor="middle">ns</text>
<path d="M312.76 318.16V315.06H331.38V318.16" fill="none" stroke-width="1.85"/>
<text class="a" x="321.17" y="317.15" text-anchor="middle">*</text>
<path d="M255.87 329.18V326.08H329.18V329.18" fill="none" stroke-width="1.85"/>
<text class="s" x="289.72" y="324.17" text-anchor="middle">ns</text>
</g>
<g><!-- IL18 -->
<rect x="386.2" y="263.9" width="114" height="21.7" fill="#DEEAF6" stroke-width="1.9"/>
<text class="b" x="443.2" y="278.25" text-anchor="middle">IL18</text>
<line x1="394.02" y1="343.92" x2="394.02" y2="356.55" stroke-width="1.9"/>
<line x1="394.02" y1="391.23" x2="394.02" y2="397.84" stroke-width="1.9"/>
<line x1="390.26" y1="343.92" x2="397.79" y2="343.92" stroke-width="1.9"/>
<line x1="390.26" y1="397.84" x2="397.79" y2="397.84" stroke-width="1.9"/>
<rect x="389.13" y="356.55" width="9.8" height="34.68" fill="#4E57AB" stroke-width="1.9"/>
<line x1="389.13" y1="381.6" x2="398.92" y2="381.6" stroke-width="1.9"/>
<line x1="411.45" y1="371.58" x2="411.45" y2="385.21" stroke-width="1.9"/>
<line x1="411.45" y1="397.44" x2="411.45" y2="401.85" stroke-width="1.9"/>
<line x1="407.69" y1="371.58" x2="415.21" y2="371.58" stroke-width="1.9"/>
<line x1="407.69" y1="401.85" x2="415.21" y2="401.85" stroke-width="1.9"/>
<rect x="406.55" y="385.21" width="9.8" height="12.23" fill="#4E57AB" stroke-width="1.9"/>
<line x1="406.55" y1="393.23" x2="416.35" y2="393.23" stroke-width="1.9"/>
<line x1="429.08" y1="368.78" x2="429.08" y2="392.23" stroke-width="1.9"/>
<line x1="429.08" y1="396.84" x2="429.08" y2="403.45" stroke-width="1.9"/>
<line x1="425.32" y1="368.78" x2="432.84" y2="368.78" stroke-width="1.9"/>
<line x1="425.32" y1="403.45" x2="432.84" y2="403.45" stroke-width="1.9"/>
<rect x="424.18" y="392.23" width="9.8" height="4.61" fill="#3F4A92" stroke-width="1.9"/>
<line x1="424.18" y1="394.23" x2="433.97" y2="394.23" stroke-width="1.9"/>
<line x1="446.5" y1="348.13" x2="446.5" y2="364.57" stroke-width="1.9"/>
<line x1="446.5" y1="391.63" x2="446.5" y2="408.26" stroke-width="1.9"/>
<line x1="442.74" y1="348.13" x2="450.26" y2="348.13" stroke-width="1.9"/>
<line x1="442.74" y1="408.26" x2="450.26" y2="408.26" stroke-width="1.9"/>
<rect x="441.6" y="364.57" width="9.8" height="27.06" fill="#D9DBD8" stroke-width="1.9"/>
<line x1="441.6" y1="389.82" x2="451.4" y2="389.82" stroke-width="1.9"/>
<line x1="464.13" y1="346.53" x2="464.13" y2="384.81" stroke-width="1.9"/>
<line x1="464.13" y1="391.23" x2="464.13" y2="394.83" stroke-width="1.9"/>
<line x1="460.37" y1="346.53" x2="467.89" y2="346.53" stroke-width="1.9"/>
<line x1="460.37" y1="394.83" x2="467.89" y2="394.83" stroke-width="1.9"/>
<rect x="459.23" y="384.81" width="9.8" height="6.41" fill="#D9DBD8" stroke-width="1.9"/>
<line x1="459.23" y1="390.22" x2="469.03" y2="390.22" stroke-width="1.9"/>
<line x1="481.55" y1="368.78" x2="481.55" y2="381.2" stroke-width="1.9"/>
<line x1="481.55" y1="395.64" x2="481.55" y2="399.64" stroke-width="1.9"/>
<line x1="477.79" y1="368.78" x2="485.31" y2="368.78" stroke-width="1.9"/>
<line x1="477.79" y1="399.64" x2="485.31" y2="399.64" stroke-width="1.9"/>
<rect x="476.65" y="381.2" width="9.8" height="14.43" fill="#D9DBD8" stroke-width="1.9"/>
<line x1="476.65" y1="392.23" x2="486.45" y2="392.23" stroke-width="1.9"/>
<line x1="498.98" y1="351.34" x2="498.98" y2="392.63" stroke-width="1.9"/>
<line x1="498.98" y1="399.24" x2="498.98" y2="406.46" stroke-width="1.9"/>
<line x1="495.22" y1="351.34" x2="502.74" y2="351.34" stroke-width="1.9"/>
<line x1="495.22" y1="406.46" x2="502.74" y2="406.46" stroke-width="1.9"/>
<rect x="494.08" y="392.63" width="9.8" height="6.61" fill="#FAC080" stroke-width="1.9"/>
<line x1="494.08" y1="394.63" x2="503.88" y2="394.63" stroke-width="1.9"/>
<path d="M382.01 318.12V447.35H510.8" fill="none" stroke-width="1.9"/>
<line x1="375.81" y1="319.07" x2="382.01" y2="319.07" stroke-width="1.9"/>
<text class="b" x="373.71" y="322.37" text-anchor="end">15</text>
<line x1="375.81" y1="361.76" x2="382.01" y2="361.76" stroke-width="1.9"/>
<text class="b" x="373.71" y="365.06" text-anchor="end">10</text>
<line x1="375.81" y1="404.45" x2="382.01" y2="404.45" stroke-width="1.9"/>
<text class="b" x="373.71" y="407.75" text-anchor="end">5</text>
<line x1="375.81" y1="447.35" x2="382.01" y2="447.35" stroke-width="1.9"/>
<text class="b" x="373.71" y="450.65" text-anchor="end">0</text>
<text class="n" transform="translate(358.62,383.21) rotate(-90)" text-anchor="middle">NPX</text>
<line x1="394.02" y1="447.35" x2="394.02" y2="454.55" stroke-width="1.9"/>
<text class="x" style="font-size:9.6px" transform="translate(396.42,462.35) rotate(-45)" text-anchor="end">0m</text>
<line x1="411.45" y1="447.35" x2="411.45" y2="454.55" stroke-width="1.9"/>
<text class="x" style="font-size:9.6px" transform="translate(413.85,462.35) rotate(-45)" text-anchor="end">6m</text>
<line x1="429.08" y1="447.35" x2="429.08" y2="454.55" stroke-width="1.9"/>
<text class="x" style="font-size:9.6px" transform="translate(431.48,462.35) rotate(-45)" text-anchor="end">12m</text>
<line x1="446.5" y1="447.35" x2="446.5" y2="454.55" stroke-width="1.9"/>
<text class="x" style="font-size:9.6px" transform="translate(448.9,462.35) rotate(-45)" text-anchor="end">0m</text>
<line x1="464.13" y1="447.35" x2="464.13" y2="454.55" stroke-width="1.9"/>
<text class="x" style="font-size:9.6px" transform="translate(466.53,462.35) rotate(-45)" text-anchor="end">6m</text>
<line x1="481.55" y1="447.35" x2="481.55" y2="454.55" stroke-width="1.9"/>
<text class="x" style="font-size:9.6px" transform="translate(483.95,462.35) rotate(-45)" text-anchor="end">12m</text>
<line x1="498.98" y1="447.35" x2="498.98" y2="454.55" stroke-width="1.9"/>
<text class="x" style="font-size:9.6px" transform="translate(501.38,462.35) rotate(-45)" text-anchor="end">CON</text>
<path d="M393.42 303.73V300.63H499.38V303.73" fill="none" stroke-width="1.85"/>
<text class="a" x="443.3" y="301.52" text-anchor="middle">*</text>
<path d="M446.3 312.75V309.65H499.38V312.75" fill="none" stroke-width="1.85"/>
<text class="s" x="471.74" y="307.34" text-anchor="middle">ns</text>
<path d="M393.42 322.17V319.07H429.48V322.17" fill="none" stroke-width="1.85"/>
<text class="a" x="413.65" y="320.96" text-anchor="middle">**</text>
<path d="M443.7 322.17V319.07H479.15V322.17" fill="none" stroke-width="1.85"/>
<text class="s" x="461.12" y="317.36" text-anchor="middle">ns</text>
<path d="M481.95 322.17V319.07H499.98V322.17" fill="none" stroke-width="1.85"/>
<text class="s" x="491.57" y="316.56" text-anchor="middle">ns</text>
<path d="M426.87 333.19V330.09H497.58V333.19" fill="none" stroke-width="1.85"/>
<text class="s" x="459.32" y="328.18" text-anchor="middle">ns</text>
</g>
<g><!-- TGF-alpha -->
<rect x="557.7" y="263.9" width="113.5" height="21.7" fill="#DEEAF6" stroke-width="1.9"/>
<text class="b" x="614.45" y="278.25" text-anchor="middle">TGF-alpha</text>
<line x1="551.41" y1="383.61" x2="679.8" y2="383.61" stroke-width="1.1" stroke-dasharray="1.1 1.5"/>
<line x1="561.82" y1="346.13" x2="561.82" y2="372.99" stroke-width="1.9"/>
<line x1="561.82" y1="397.24" x2="561.82" y2="401.25" stroke-width="1.9"/>
<line x1="558.03" y1="346.13" x2="565.61" y2="346.13" stroke-width="1.9"/>
<line x1="558.03" y1="401.25" x2="565.61" y2="401.25" stroke-width="1.9"/>
<rect x="556.89" y="372.99" width="9.87" height="24.25" fill="#4E57AB" stroke-width="1.9"/>
<line x1="556.89" y1="385.21" x2="566.76" y2="385.21" stroke-width="1.9"/>
<line x1="579.45" y1="380.8" x2="579.45" y2="397.04" stroke-width="1.9"/>
<line x1="579.45" y1="406.86" x2="579.45" y2="411.87" stroke-width="1.9"/>
<line x1="575.66" y1="380.8" x2="583.24" y2="380.8" stroke-width="1.9"/>
<line x1="575.66" y1="411.87" x2="583.24" y2="411.87" stroke-width="1.9"/>
<rect x="574.51" y="397.04" width="9.87" height="9.82" fill="#4E57AB" stroke-width="1.9"/>
<line x1="574.51" y1="403.65" x2="584.38" y2="403.65" stroke-width="1.9"/>
<line x1="597.07" y1="368.18" x2="597.07" y2="394.23" stroke-width="1.9"/>
<line x1="597.07" y1="409.47" x2="597.07" y2="420.69" stroke-width="1.9"/>
<line x1="593.29" y1="368.18" x2="600.86" y2="368.18" stroke-width="1.9"/>
<line x1="593.29" y1="420.69" x2="600.86" y2="420.69" stroke-width="1.9"/>
<rect x="592.14" y="394.23" width="9.87" height="15.23" fill="#3F4A92" stroke-width="1.9"/>
<line x1="592.14" y1="404.65" x2="602.01" y2="404.65" stroke-width="1.9"/>
<line x1="614.7" y1="350.14" x2="614.7" y2="371.18" stroke-width="1.9"/>
<line x1="614.7" y1="394.23" x2="614.7" y2="397.24" stroke-width="1.9"/>
<line x1="610.91" y1="350.14" x2="618.49" y2="350.14" stroke-width="1.9"/>
<line x1="610.91" y1="397.24" x2="618.49" y2="397.24" stroke-width="1.9"/>
<rect x="609.77" y="371.18" width="9.87" height="23.05" fill="#D9DBD8" stroke-width="1.9"/>
<line x1="609.77" y1="387.62" x2="619.64" y2="387.62" stroke-width="1.9"/>
<line x1="632.33" y1="329.49" x2="632.33" y2="363.57" stroke-width="1.9"/>
<line x1="632.33" y1="392.23" x2="632.33" y2="405.86" stroke-width="1.9"/>
<line x1="628.54" y1="329.49" x2="636.12" y2="329.49" stroke-width="1.9"/>
<line x1="628.54" y1="405.86" x2="636.12" y2="405.86" stroke-width="1.9"/>
<rect x="627.39" y="363.57" width="9.87" height="28.66" fill="#D9DBD8" stroke-width="1.9"/>
<line x1="627.39" y1="380.8" x2="637.26" y2="380.8" stroke-width="1.9"/>
<line x1="649.95" y1="378" x2="649.95" y2="387.82" stroke-width="1.9"/>
<line x1="649.95" y1="407.46" x2="649.95" y2="420.49" stroke-width="1.9"/>
<line x1="646.16" y1="378" x2="653.74" y2="378" stroke-width="1.9"/>
<line x1="646.16" y1="420.49" x2="653.74" y2="420.49" stroke-width="1.9"/>
<rect x="645.02" y="387.82" width="9.87" height="19.64" fill="#D9DBD8" stroke-width="1.9"/>
<line x1="645.02" y1="397.84" x2="654.89" y2="397.84" stroke-width="1.9"/>
<line x1="667.58" y1="362.96" x2="667.58" y2="398.24" stroke-width="1.9"/>
<line x1="667.58" y1="408.86" x2="667.58" y2="416.68" stroke-width="1.9"/>
<line x1="663.79" y1="362.96" x2="671.37" y2="362.96" stroke-width="1.9"/>
<line x1="663.79" y1="416.68" x2="671.37" y2="416.68" stroke-width="1.9"/>
<rect x="662.64" y="398.24" width="9.87" height="10.62" fill="#FAC080" stroke-width="1.9"/>
<line x1="662.64" y1="404.25" x2="672.51" y2="404.25" stroke-width="1.9"/>
<path d="M550.41 317.72V448.35H679.8" fill="none" stroke-width="1.9"/>
<line x1="544.21" y1="318.67" x2="550.41" y2="318.67" stroke-width="1.9"/>
<text class="b" x="542.11" y="321.97" text-anchor="end">4</text>
<line x1="544.21" y1="351.14" x2="550.41" y2="351.14" stroke-width="1.9"/>
<text class="b" x="542.11" y="354.44" text-anchor="end">2</text>
<line x1="544.21" y1="383.61" x2="550.41" y2="383.61" stroke-width="1.9"/>
<text class="b" x="542.11" y="386.91" text-anchor="end">0</text>
<line x1="544.21" y1="415.88" x2="550.41" y2="415.88" stroke-width="1.9"/>
<text class="b" x="542.11" y="419.18" text-anchor="end">-2</text>
<line x1="544.21" y1="448.35" x2="550.41" y2="448.35" stroke-width="1.9"/>
<text class="b" x="542.11" y="451.65" text-anchor="end">-4</text>
<text class="n" transform="translate(526.68,383.51) rotate(-90)" text-anchor="middle">NPX</text>
<line x1="561.82" y1="448.35" x2="561.82" y2="455.55" stroke-width="1.9"/>
<text class="x" style="font-size:9.67px" transform="translate(564.22,463.35) rotate(-45)" text-anchor="end">0m</text>
<line x1="579.45" y1="448.35" x2="579.45" y2="455.55" stroke-width="1.9"/>
<text class="x" style="font-size:9.67px" transform="translate(581.85,463.35) rotate(-45)" text-anchor="end">6m</text>
<line x1="597.07" y1="448.35" x2="597.07" y2="455.55" stroke-width="1.9"/>
<text class="x" style="font-size:9.67px" transform="translate(599.47,463.35) rotate(-45)" text-anchor="end">12m</text>
<line x1="614.7" y1="448.35" x2="614.7" y2="455.55" stroke-width="1.9"/>
<text class="x" style="font-size:9.67px" transform="translate(617.1,463.35) rotate(-45)" text-anchor="end">0m</text>
<line x1="632.33" y1="448.35" x2="632.33" y2="455.55" stroke-width="1.9"/>
<text class="x" style="font-size:9.67px" transform="translate(634.73,463.35) rotate(-45)" text-anchor="end">6m</text>
<line x1="649.95" y1="448.35" x2="649.95" y2="455.55" stroke-width="1.9"/>
<text class="x" style="font-size:9.67px" transform="translate(652.35,463.35) rotate(-45)" text-anchor="end">12m</text>
<line x1="667.58" y1="448.35" x2="667.58" y2="455.55" stroke-width="1.9"/>
<text class="x" style="font-size:9.67px" transform="translate(669.98,463.35) rotate(-45)" text-anchor="end">CON</text>
<path d="M561.02 298.72V295.62H668.18V298.72" fill="none" stroke-width="1.85"/>
<text class="a" x="611.7" y="296.51" text-anchor="middle">**</text>
<path d="M614.5 309.14V306.04H668.18V309.14" fill="none" stroke-width="1.85"/>
<text class="a" x="640.54" y="306.13" text-anchor="middle">**</text>
<path d="M561.02 317.76V314.66H597.68V317.76" fill="none" stroke-width="1.85"/>
<text class="a" x="581.65" y="316.95" text-anchor="middle">**</text>
<path d="M611.5 317.76V314.66H648.15V317.76" fill="none" stroke-width="1.85"/>
<text class="a" x="629.92" y="316.95" text-anchor="middle">*</text>
<path d="M650.55 317.76V314.66H668.78V317.76" fill="none" stroke-width="1.85"/>
<text class="s" x="660.17" y="314.35" text-anchor="middle">ns</text>
<path d="M594.67 328.78V325.68H666.58V328.78" fill="none" stroke-width="1.85"/>
<text class="s" x="628.12" y="323.97" text-anchor="middle">ns</text>
</g>
<g><!-- MCP-4 -->
<rect x="44.7" y="479.9" width="113.5" height="21.9" fill="#DEEAF6" stroke-width="1.9"/>
<text class="b" x="101.45" y="494.35" text-anchor="middle">MCP-4</text>
<line x1="49.62" y1="585.78" x2="49.62" y2="588.59" stroke-width="1.9"/>
<line x1="49.62" y1="609.23" x2="49.62" y2="619.86" stroke-width="1.9"/>
<line x1="45.86" y1="585.78" x2="53.39" y2="585.78" stroke-width="1.9"/>
<line x1="45.86" y1="619.86" x2="53.39" y2="619.86" stroke-width="1.9"/>
<rect x="44.72" y="588.59" width="9.81" height="20.65" fill="#4E57AB" stroke-width="1.9"/>
<line x1="44.72" y1="593.2" x2="54.53" y2="593.2" stroke-width="1.9"/>
<line x1="67.05" y1="563.73" x2="67.05" y2="598.81" stroke-width="1.9"/>
<line x1="67.05" y1="612.44" x2="67.05" y2="624.47" stroke-width="1.9"/>
<line x1="63.28" y1="563.73" x2="70.82" y2="563.73" stroke-width="1.9"/>
<line x1="63.28" y1="624.47" x2="70.82" y2="624.47" stroke-width="1.9"/>
<rect x="62.14" y="598.81" width="9.81" height="13.63" fill="#4E57AB" stroke-width="1.9"/>
<line x1="62.14" y1="607.63" x2="71.96" y2="607.63" stroke-width="1.9"/>
<line x1="84.68" y1="596.81" x2="84.68" y2="600.21" stroke-width="1.9"/>
<line x1="84.68" y1="621.26" x2="84.68" y2="639.3" stroke-width="1.9"/>
<line x1="80.91" y1="596.81" x2="88.44" y2="596.81" stroke-width="1.9"/>
<line x1="80.91" y1="639.3" x2="88.44" y2="639.3" stroke-width="1.9"/>
<rect x="79.77" y="600.21" width="9.81" height="21.05" fill="#3F4A92" stroke-width="1.9"/>
<line x1="79.77" y1="606.63" x2="89.58" y2="606.63" stroke-width="1.9"/>
<line x1="102.1" y1="585.78" x2="102.1" y2="591.59" stroke-width="1.9"/>
<line x1="102.1" y1="613.04" x2="102.1" y2="631.08" stroke-width="1.9"/>
<line x1="98.33" y1="585.78" x2="105.87" y2="585.78" stroke-width="1.9"/>
<line x1="98.33" y1="631.08" x2="105.87" y2="631.08" stroke-width="1.9"/>
<rect x="97.19" y="591.59" width="9.81" height="21.45" fill="#D9DBD8" stroke-width="1.9"/>
<line x1="97.19" y1="599.21" x2="107.01" y2="599.21" stroke-width="1.9"/>
<line x1="119.73" y1="575.56" x2="119.73" y2="583.58" stroke-width="1.9"/>
<line x1="119.73" y1="598.01" x2="119.73" y2="622.86" stroke-width="1.9"/>
<line x1="115.96" y1="575.56" x2="123.49" y2="575.56" stroke-width="1.9"/>
<line x1="115.96" y1="622.86" x2="123.49" y2="622.86" stroke-width="1.9"/>
<rect x="114.82" y="583.58" width="9.81" height="14.43" fill="#D9DBD8" stroke-width="1.9"/>
<line x1="114.82" y1="588.79" x2="124.63" y2="588.79" stroke-width="1.9"/>
<line x1="137.15" y1="579.77" x2="137.15" y2="588.19" stroke-width="1.9"/>
<line x1="137.15" y1="604.22" x2="137.15" y2="616.05" stroke-width="1.9"/>
<line x1="133.38" y1="579.77" x2="140.92" y2="579.77" stroke-width="1.9"/>
<line x1="133.38" y1="616.05" x2="140.92" y2="616.05" stroke-width="1.9"/>
<rect x="132.24" y="588.19" width="9.81" height="16.04" fill="#D9DBD8" stroke-width="1.9"/>
<line x1="132.24" y1="595.8" x2="142.06" y2="595.8" stroke-width="1.9"/>
<line x1="154.78" y1="591.19" x2="154.78" y2="602.62" stroke-width="1.9"/>
<line x1="154.78" y1="622.66" x2="154.78" y2="641.1" stroke-width="1.9"/>
<line x1="151.01" y1="591.19" x2="158.55" y2="591.19" stroke-width="1.9"/>
<line x1="151.01" y1="641.1" x2="158.55" y2="641.1" stroke-width="1.9"/>
<rect x="149.87" y="602.62" width="9.81" height="20.04" fill="#FAC080" stroke-width="1.9"/>
<line x1="149.87" y1="615.25" x2="159.68" y2="615.25" stroke-width="1.9"/>
<path d="M38.01 534.12V663.35H166.8" fill="none" stroke-width="1.9"/>
<line x1="31.81" y1="535.07" x2="38.01" y2="535.07" stroke-width="1.9"/>
<text class="b" x="29.71" y="538.37" text-anchor="end">16</text>
<line x1="31.81" y1="560.73" x2="38.01" y2="560.73" stroke-width="1.9"/>
<text class="b" x="29.71" y="564.03" text-anchor="end">14</text>
<line x1="31.81" y1="586.38" x2="38.01" y2="586.38" stroke-width="1.9"/>
<text class="b" x="29.71" y="589.68" text-anchor="end">12</text>
<line x1="31.81" y1="612.04" x2="38.01" y2="612.04" stroke-width="1.9"/>
<text class="b" x="29.71" y="615.34" text-anchor="end">10</text>
<line x1="31.81" y1="637.69" x2="38.01" y2="637.69" stroke-width="1.9"/>
<text class="b" x="29.71" y="640.99" text-anchor="end">8</text>
<line x1="31.81" y1="663.35" x2="38.01" y2="663.35" stroke-width="1.9"/>
<text class="b" x="29.71" y="666.65" text-anchor="end">6</text>
<text class="n" transform="translate(14.42,599.21) rotate(-90)" text-anchor="middle">NPX</text>
<line x1="49.62" y1="663.35" x2="49.62" y2="670.55" stroke-width="1.9"/>
<text class="x" style="font-size:9.61px" transform="translate(52.02,678.35) rotate(-45)" text-anchor="end">0m</text>
<line x1="67.05" y1="663.35" x2="67.05" y2="670.55" stroke-width="1.9"/>
<text class="x" style="font-size:9.61px" transform="translate(69.45,678.35) rotate(-45)" text-anchor="end">6m</text>
<line x1="84.68" y1="663.35" x2="84.68" y2="670.55" stroke-width="1.9"/>
<text class="x" style="font-size:9.61px" transform="translate(87.08,678.35) rotate(-45)" text-anchor="end">12m</text>
<line x1="102.1" y1="663.35" x2="102.1" y2="670.55" stroke-width="1.9"/>
<text class="x" style="font-size:9.61px" transform="translate(104.5,678.35) rotate(-45)" text-anchor="end">0m</text>
<line x1="119.73" y1="663.35" x2="119.73" y2="670.55" stroke-width="1.9"/>
<text class="x" style="font-size:9.61px" transform="translate(122.13,678.35) rotate(-45)" text-anchor="end">6m</text>
<line x1="137.15" y1="663.35" x2="137.15" y2="670.55" stroke-width="1.9"/>
<text class="x" style="font-size:9.61px" transform="translate(139.55,678.35) rotate(-45)" text-anchor="end">12m</text>
<line x1="154.78" y1="663.35" x2="154.78" y2="670.55" stroke-width="1.9"/>
<text class="x" style="font-size:9.61px" transform="translate(157.18,678.35) rotate(-45)" text-anchor="end">CON</text>
<path d="M49.42 519.13V516.03H155.18V519.13" fill="none" stroke-width="1.85"/>
<text class="a" x="100.7" y="517.52" text-anchor="middle">**</text>
<path d="M101.9 529.15V526.05H155.18V529.15" fill="none" stroke-width="1.85"/>
<text class="s" x="127.54" y="523.34" text-anchor="middle">ns</text>
<path d="M49.42 538.17V535.07H85.48V538.17" fill="none" stroke-width="1.85"/>
<text class="a" x="67.65" y="537.16" text-anchor="middle">*</text>
<path d="M99.5 538.17V535.07H135.15V538.17" fill="none" stroke-width="1.85"/>
<text class="s" x="116.72" y="533.56" text-anchor="middle">ns</text>
<path d="M137.75 538.17V535.07H155.78V538.17" fill="none" stroke-width="1.85"/>
<text class="a" x="147.77" y="537.16" text-anchor="middle">***</text>
<path d="M82.87 549.19V546.09H153.58V549.19" fill="none" stroke-width="1.85"/>
<text class="s" x="115.32" y="543.98" text-anchor="middle">ns</text>
</g>
<g><!-- TNFSF14 -->
<rect x="223.7" y="479.9" width="113.5" height="21.9" fill="#DEEAF6" stroke-width="1.9"/>
<text class="b" x="280.45" y="494.35" text-anchor="middle">TNFSF14</text>
<line x1="222.23" y1="556.92" x2="222.23" y2="585.98" stroke-width="1.9"/>
<line x1="222.23" y1="608.63" x2="222.23" y2="626.67" stroke-width="1.9"/>
<line x1="218.34" y1="556.92" x2="226.11" y2="556.92" stroke-width="1.9"/>
<line x1="218.34" y1="626.67" x2="226.11" y2="626.67" stroke-width="1.9"/>
<rect x="217.17" y="585.98" width="10.11" height="22.65" fill="#4E57AB" stroke-width="1.9"/>
<line x1="217.17" y1="594.6" x2="227.28" y2="594.6" stroke-width="1.9"/>
<line x1="240.25" y1="574.16" x2="240.25" y2="610.84" stroke-width="1.9"/>
<line x1="240.25" y1="634.89" x2="240.25" y2="642.71" stroke-width="1.9"/>
<line x1="236.37" y1="574.16" x2="244.13" y2="574.16" stroke-width="1.9"/>
<line x1="236.37" y1="642.71" x2="244.13" y2="642.71" stroke-width="1.9"/>
<rect x="235.19" y="610.84" width="10.11" height="24.05" fill="#4E57AB" stroke-width="1.9"/>
<line x1="235.19" y1="612.84" x2="245.31" y2="612.84" stroke-width="1.9"/>
<line x1="258.28" y1="607.63" x2="258.28" y2="611.84" stroke-width="1.9"/>
<line x1="258.28" y1="634.89" x2="258.28" y2="653.73" stroke-width="1.9"/>
<line x1="254.39" y1="607.63" x2="262.16" y2="607.63" stroke-width="1.9"/>
<line x1="254.39" y1="653.73" x2="262.16" y2="653.73" stroke-width="1.9"/>
<rect x="253.22" y="611.84" width="10.11" height="23.05" fill="#3F4A92" stroke-width="1.9"/>
<line x1="253.22" y1="630.28" x2="263.33" y2="630.28" stroke-width="1.9"/>
<line x1="276.3" y1="559.12" x2="276.3" y2="593.6" stroke-width="1.9"/>
<line x1="276.3" y1="617.25" x2="276.3" y2="621.66" stroke-width="1.9"/>
<line x1="272.42" y1="559.12" x2="280.19" y2="559.12" stroke-width="1.9"/>
<line x1="272.42" y1="621.66" x2="280.19" y2="621.66" stroke-width="1.9"/>
<rect x="271.25" y="593.6" width="10.11" height="23.65" fill="#D9DBD8" stroke-width="1.9"/>
<line x1="271.25" y1="598.61" x2="281.36" y2="598.61" stroke-width="1.9"/>
<line x1="294.53" y1="561.93" x2="294.53" y2="569.14" stroke-width="1.9"/>
<line x1="294.53" y1="601.21" x2="294.53" y2="625.87" stroke-width="1.9"/>
<line x1="290.65" y1="561.93" x2="298.41" y2="561.93" stroke-width="1.9"/>
<line x1="290.65" y1="625.87" x2="298.41" y2="625.87" stroke-width="1.9"/>
<rect x="289.47" y="569.14" width="10.11" height="32.07" fill="#D9DBD8" stroke-width="1.9"/>
<line x1="289.47" y1="573.15" x2="299.59" y2="573.15" stroke-width="1.9"/>
<line x1="312.56" y1="577.56" x2="312.56" y2="596.6" stroke-width="1.9"/>
<line x1="312.56" y1="618.45" x2="312.56" y2="629.48" stroke-width="1.9"/>
<line x1="308.67" y1="577.56" x2="316.44" y2="577.56" stroke-width="1.9"/>
<line x1="308.67" y1="629.48" x2="316.44" y2="629.48" stroke-width="1.9"/>
<rect x="307.5" y="596.6" width="10.11" height="21.85" fill="#D9DBD8" stroke-width="1.9"/>
<line x1="307.5" y1="611.24" x2="317.61" y2="611.24" stroke-width="1.9"/>
<line x1="330.58" y1="574.76" x2="330.58" y2="618.85" stroke-width="1.9"/>
<line x1="330.58" y1="633.89" x2="330.58" y2="647.72" stroke-width="1.9"/>
<line x1="326.7" y1="574.76" x2="334.47" y2="574.76" stroke-width="1.9"/>
<line x1="326.7" y1="647.72" x2="334.47" y2="647.72" stroke-width="1.9"/>
<rect x="325.53" y="618.85" width="10.11" height="15.03" fill="#FAC080" stroke-width="1.9"/>
<line x1="325.53" y1="630.28" x2="335.64" y2="630.28" stroke-width="1.9"/>
<path d="M210.01 530.71V663.55H343.2" fill="none" stroke-width="1.9"/>
<line x1="203.81" y1="531.66" x2="210.01" y2="531.66" stroke-width="1.9"/>
<text class="b" x="201.71" y="534.96" text-anchor="end">8</text>
<line x1="203.81" y1="564.73" x2="210.01" y2="564.73" stroke-width="1.9"/>
<text class="b" x="201.71" y="568.03" text-anchor="end">6</text>
<line x1="203.81" y1="597.61" x2="210.01" y2="597.61" stroke-width="1.9"/>
<text class="b" x="201.71" y="600.91" text-anchor="end">4</text>
<line x1="203.81" y1="630.68" x2="210.01" y2="630.68" stroke-width="1.9"/>
<text class="b" x="201.71" y="633.98" text-anchor="end">2</text>
<line x1="203.81" y1="663.55" x2="210.01" y2="663.55" stroke-width="1.9"/>
<text class="b" x="201.71" y="666.85" text-anchor="end">0</text>
<text class="n" transform="translate(190.56,597.61) rotate(-90)" text-anchor="middle">NPX</text>
<line x1="222.23" y1="663.55" x2="222.23" y2="670.75" stroke-width="1.9"/>
<text class="x" style="font-size:9.91px" transform="translate(224.63,678.55) rotate(-45)" text-anchor="end">0m</text>
<line x1="240.25" y1="663.55" x2="240.25" y2="670.75" stroke-width="1.9"/>
<text class="x" style="font-size:9.91px" transform="translate(242.65,678.55) rotate(-45)" text-anchor="end">6m</text>
<line x1="258.28" y1="663.55" x2="258.28" y2="670.75" stroke-width="1.9"/>
<text class="x" style="font-size:9.91px" transform="translate(260.68,678.55) rotate(-45)" text-anchor="end">12m</text>
<line x1="276.3" y1="663.55" x2="276.3" y2="670.75" stroke-width="1.9"/>
<text class="x" style="font-size:9.91px" transform="translate(278.7,678.55) rotate(-45)" text-anchor="end">0m</text>
<line x1="294.53" y1="663.55" x2="294.53" y2="670.75" stroke-width="1.9"/>
<text class="x" style="font-size:9.91px" transform="translate(296.93,678.55) rotate(-45)" text-anchor="end">6m</text>
<line x1="312.56" y1="663.55" x2="312.56" y2="670.75" stroke-width="1.9"/>
<text class="x" style="font-size:9.91px" transform="translate(314.96,678.55) rotate(-45)" text-anchor="end">12m</text>
<line x1="330.58" y1="663.55" x2="330.58" y2="670.75" stroke-width="1.9"/>
<text class="x" style="font-size:9.91px" transform="translate(332.98,678.55) rotate(-45)" text-anchor="end">CON</text>
<path d="M221.62 515.12V512.02H331.18V515.12" fill="none" stroke-width="1.85"/>
<text class="a" x="277.51" y="512.91" text-anchor="middle">***</text>
<path d="M275.9 525.14V522.04H331.18V525.14" fill="none" stroke-width="1.85"/>
<text class="a" x="302.54" y="523.13" text-anchor="middle">**</text>
<path d="M221.62 535.16V532.06H259.08V535.16" fill="none" stroke-width="1.85"/>
<text class="a" x="245.06" y="533.55" text-anchor="middle">***</text>
<path d="M273.5 535.16V532.06H310.35V535.16" fill="none" stroke-width="1.85"/>
<text class="s" x="291.73" y="529.95" text-anchor="middle">ns</text>
<path d="M313.16 535.16V532.06H331.79V535.16" fill="none" stroke-width="1.85"/>
<text class="a" x="319.57" y="533.55" text-anchor="middle">*</text>
<path d="M256.07 546.19V543.09H329.58V546.19" fill="none" stroke-width="1.85"/>
<text class="s" x="290.12" y="540.98" text-anchor="middle">ns</text>
</g>
<g><!-- IL-18R1 -->
<rect x="386.2" y="479.9" width="114" height="21.9" fill="#DEEAF6" stroke-width="1.9"/>
<text class="b" x="443.2" y="494.35" text-anchor="middle">IL-18R1</text>
<line x1="395.02" y1="565.14" x2="395.02" y2="599.21" stroke-width="1.9"/>
<line x1="395.02" y1="623.26" x2="395.02" y2="629.68" stroke-width="1.9"/>
<line x1="391.13" y1="565.14" x2="398.91" y2="565.14" stroke-width="1.9"/>
<line x1="391.13" y1="629.68" x2="398.91" y2="629.68" stroke-width="1.9"/>
<rect x="389.96" y="599.21" width="10.13" height="24.05" fill="#4E57AB" stroke-width="1.9"/>
<line x1="389.96" y1="612.84" x2="400.09" y2="612.84" stroke-width="1.9"/>
<line x1="413.05" y1="603.62" x2="413.05" y2="614.84" stroke-width="1.9"/>
<line x1="413.05" y1="629.28" x2="413.05" y2="651.73" stroke-width="1.9"/>
<line x1="409.16" y1="603.62" x2="416.94" y2="603.62" stroke-width="1.9"/>
<line x1="409.16" y1="651.73" x2="416.94" y2="651.73" stroke-width="1.9"/>
<rect x="407.98" y="614.84" width="10.13" height="14.43" fill="#4E57AB" stroke-width="1.9"/>
<line x1="407.98" y1="619.86" x2="418.12" y2="619.86" stroke-width="1.9"/>
<line x1="431.28" y1="601.82" x2="431.28" y2="609.43" stroke-width="1.9"/>
<line x1="431.28" y1="631.88" x2="431.28" y2="656.94" stroke-width="1.9"/>
<line x1="427.39" y1="601.82" x2="435.17" y2="601.82" stroke-width="1.9"/>
<line x1="427.39" y1="656.94" x2="435.17" y2="656.94" stroke-width="1.9"/>
<rect x="426.21" y="609.43" width="10.13" height="22.45" fill="#3F4A92" stroke-width="1.9"/>
<line x1="426.21" y1="622.26" x2="436.34" y2="622.26" stroke-width="1.9"/>
<line x1="449.3" y1="578.36" x2="449.3" y2="593.6" stroke-width="1.9"/>
<line x1="449.3" y1="622.86" x2="449.3" y2="643.31" stroke-width="1.9"/>
<line x1="445.41" y1="578.36" x2="453.19" y2="578.36" stroke-width="1.9"/>
<line x1="445.41" y1="643.31" x2="453.19" y2="643.31" stroke-width="1.9"/>
<rect x="444.24" y="593.6" width="10.13" height="29.26" fill="#D9DBD8" stroke-width="1.9"/>
<line x1="444.24" y1="602.62" x2="454.37" y2="602.62" stroke-width="1.9"/>
<line x1="467.33" y1="575.16" x2="467.33" y2="591.19" stroke-width="1.9"/>
<line x1="467.33" y1="607.83" x2="467.33" y2="658.14" stroke-width="1.9"/>
<line x1="463.44" y1="575.16" x2="471.22" y2="575.16" stroke-width="1.9"/>
<line x1="463.44" y1="658.14" x2="471.22" y2="658.14" stroke-width="1.9"/>
<rect x="462.26" y="591.19" width="10.13" height="16.64" fill="#D9DBD8" stroke-width="1.9"/>
<line x1="462.26" y1="599.21" x2="472.4" y2="599.21" stroke-width="1.9"/>
<line x1="485.36" y1="576.96" x2="485.36" y2="598.41" stroke-width="1.9"/>
<line x1="485.36" y1="618.25" x2="485.36" y2="640.7" stroke-width="1.9"/>
<line x1="481.47" y1="576.96" x2="489.25" y2="576.96" stroke-width="1.9"/>
<line x1="481.47" y1="640.7" x2="489.25" y2="640.7" stroke-width="1.9"/>
<rect x="480.29" y="598.41" width="10.13" height="19.84" fill="#D9DBD8" stroke-width="1.9"/>
<line x1="480.29" y1="610.43" x2="490.42" y2="610.43" stroke-width="1.9"/>
<line x1="503.58" y1="600.61" x2="503.58" y2="615.65" stroke-width="1.9"/>
<line x1="503.58" y1="637.69" x2="503.58" y2="643.91" stroke-width="1.9"/>
<line x1="499.69" y1="600.61" x2="507.47" y2="600.61" stroke-width="1.9"/>
<line x1="499.69" y1="643.91" x2="507.47" y2="643.91" stroke-width="1.9"/>
<rect x="498.52" y="615.65" width="10.13" height="22.05" fill="#FAC080" stroke-width="1.9"/>
<line x1="498.52" y1="626.27" x2="508.65" y2="626.27" stroke-width="1.9"/>
<path d="M383.41 530.11V663.35H515.8" fill="none" stroke-width="1.9"/>
<line x1="377.21" y1="531.06" x2="383.41" y2="531.06" stroke-width="1.9"/>
<text class="b" x="375.11" y="534.36" text-anchor="end">8</text>
<line x1="377.21" y1="564.13" x2="383.41" y2="564.13" stroke-width="1.9"/>
<text class="b" x="375.11" y="567.43" text-anchor="end">7</text>
<line x1="377.21" y1="597.21" x2="383.41" y2="597.21" stroke-width="1.9"/>
<text class="b" x="375.11" y="600.51" text-anchor="end">6</text>
<line x1="377.21" y1="630.28" x2="383.41" y2="630.28" stroke-width="1.9"/>
<text class="b" x="375.11" y="633.58" text-anchor="end">5</text>
<line x1="377.21" y1="663.35" x2="383.41" y2="663.35" stroke-width="1.9"/>
<text class="b" x="375.11" y="666.65" text-anchor="end">4</text>
<text class="n" transform="translate(363.26,597.21) rotate(-90)" text-anchor="middle">NPX</text>
<line x1="395.02" y1="663.35" x2="395.02" y2="670.55" stroke-width="1.9"/>
<text class="x" style="font-size:9.93px" transform="translate(397.42,678.35) rotate(-45)" text-anchor="end">0m</text>
<line x1="413.05" y1="663.35" x2="413.05" y2="670.55" stroke-width="1.9"/>
<text class="x" style="font-size:9.93px" transform="translate(415.45,678.35) rotate(-45)" text-anchor="end">6m</text>
<line x1="431.28" y1="663.35" x2="431.28" y2="670.55" stroke-width="1.9"/>
<text class="x" style="font-size:9.93px" transform="translate(433.68,678.35) rotate(-45)" text-anchor="end">12m</text>
<line x1="449.3" y1="663.35" x2="449.3" y2="670.55" stroke-width="1.9"/>
<text class="x" style="font-size:9.93px" transform="translate(451.7,678.35) rotate(-45)" text-anchor="end">0m</text>
<line x1="467.33" y1="663.35" x2="467.33" y2="670.55" stroke-width="1.9"/>
<text class="x" style="font-size:9.93px" transform="translate(469.73,678.35) rotate(-45)" text-anchor="end">6m</text>
<line x1="485.36" y1="663.35" x2="485.36" y2="670.55" stroke-width="1.9"/>
<text class="x" style="font-size:9.93px" transform="translate(487.76,678.35) rotate(-45)" text-anchor="end">12m</text>
<line x1="503.58" y1="663.35" x2="503.58" y2="670.55" stroke-width="1.9"/>
<text class="x" style="font-size:9.93px" transform="translate(505.98,678.35) rotate(-45)" text-anchor="end">CON</text>
<path d="M394.62 514.12V511.02H504.18V514.12" fill="none" stroke-width="1.85"/>
<text class="a" x="449.1" y="512.51" text-anchor="middle">*</text>
<path d="M447.9 524.54V521.44H504.18V524.54" fill="none" stroke-width="1.85"/>
<text class="a" x="476.14" y="522.93" text-anchor="middle">*</text>
<path d="M394.62 535.76V532.66H431.48V535.76" fill="none" stroke-width="1.85"/>
<text class="a" x="413.45" y="533.55" text-anchor="middle">*</text>
<path d="M447.9 535.16V532.06H484.75V535.16" fill="none" stroke-width="1.85"/>
<text class="s" x="467.13" y="529.55" text-anchor="middle">ns</text>
<path d="M488.56 535.16V532.06H507.19V535.16" fill="none" stroke-width="1.85"/>
<text class="a" x="497.17" y="533.55" text-anchor="middle">*</text>
<path d="M427.07 546.79V543.69H483.15V546.79" fill="none" stroke-width="1.85"/>
<text class="s" x="453.11" y="541.18" text-anchor="middle">ns</text>
</g>
<g><!-- CCL3 -->
<rect x="557.7" y="479.9" width="113.5" height="21.9" fill="#DEEAF6" stroke-width="1.9"/>
<text class="b" x="614.45" y="494.35" text-anchor="middle">CCL3</text>
<line x1="563.23" y1="579.17" x2="563.23" y2="596.6" stroke-width="1.9"/>
<line x1="563.23" y1="614.64" x2="563.23" y2="625.87" stroke-width="1.9"/>
<line x1="559.34" y1="579.17" x2="567.11" y2="579.17" stroke-width="1.9"/>
<line x1="559.34" y1="625.87" x2="567.11" y2="625.87" stroke-width="1.9"/>
<rect x="558.17" y="596.6" width="10.11" height="18.04" fill="#4E57AB" stroke-width="1.9"/>
<line x1="558.17" y1="606.83" x2="568.28" y2="606.83" stroke-width="1.9"/>
<line x1="581.25" y1="596.81" x2="581.25" y2="604.62" stroke-width="1.9"/>
<line x1="581.25" y1="627.67" x2="581.25" y2="637.29" stroke-width="1.9"/>
<line x1="577.37" y1="596.81" x2="585.13" y2="596.81" stroke-width="1.9"/>
<line x1="577.37" y1="637.29" x2="585.13" y2="637.29" stroke-width="1.9"/>
<rect x="576.19" y="604.62" width="10.11" height="23.05" fill="#4E57AB" stroke-width="1.9"/>
<line x1="576.19" y1="611.84" x2="586.31" y2="611.84" stroke-width="1.9"/>
<line x1="599.28" y1="596.81" x2="599.28" y2="613.24" stroke-width="1.9"/>
<line x1="599.28" y1="632.88" x2="599.28" y2="641.7" stroke-width="1.9"/>
<line x1="595.39" y1="596.81" x2="603.16" y2="596.81" stroke-width="1.9"/>
<line x1="595.39" y1="641.7" x2="603.16" y2="641.7" stroke-width="1.9"/>
<rect x="594.22" y="613.24" width="10.11" height="19.64" fill="#3F4A92" stroke-width="1.9"/>
<line x1="594.22" y1="626.47" x2="604.33" y2="626.47" stroke-width="1.9"/>
<line x1="617.3" y1="547.5" x2="617.3" y2="591.79" stroke-width="1.9"/>
<line x1="617.3" y1="609.23" x2="617.3" y2="620.86" stroke-width="1.9"/>
<line x1="613.42" y1="547.5" x2="621.19" y2="547.5" stroke-width="1.9"/>
<line x1="613.42" y1="620.86" x2="621.19" y2="620.86" stroke-width="1.9"/>
<rect x="612.25" y="591.79" width="10.11" height="17.44" fill="#D9DBD8" stroke-width="1.9"/>
<line x1="612.25" y1="600.81" x2="622.36" y2="600.81" stroke-width="1.9"/>
<line x1="635.53" y1="571.15" x2="635.53" y2="575.56" stroke-width="1.9"/>
<line x1="635.53" y1="614.84" x2="635.53" y2="629.68" stroke-width="1.9"/>
<line x1="631.65" y1="571.15" x2="639.41" y2="571.15" stroke-width="1.9"/>
<line x1="631.65" y1="629.68" x2="639.41" y2="629.68" stroke-width="1.9"/>
<rect x="630.47" y="575.56" width="10.11" height="39.29" fill="#D9DBD8" stroke-width="1.9"/>
<line x1="630.47" y1="588.79" x2="640.59" y2="588.79" stroke-width="1.9"/>
<line x1="653.56" y1="573.55" x2="653.56" y2="595.4" stroke-width="1.9"/>
<line x1="653.56" y1="618.25" x2="653.56" y2="632.88" stroke-width="1.9"/>
<line x1="649.67" y1="573.55" x2="657.44" y2="573.55" stroke-width="1.9"/>
<line x1="649.67" y1="632.88" x2="657.44" y2="632.88" stroke-width="1.9"/>
<rect x="648.5" y="595.4" width="10.11" height="22.85" fill="#D9DBD8" stroke-width="1.9"/>
<line x1="648.5" y1="612.84" x2="658.61" y2="612.84" stroke-width="1.9"/>
<line x1="671.58" y1="577.96" x2="671.58" y2="615.65" stroke-width="1.9"/>
<line x1="671.58" y1="628.88" x2="671.58" y2="635.69" stroke-width="1.9"/>
<line x1="667.7" y1="577.96" x2="675.47" y2="577.96" stroke-width="1.9"/>
<line x1="667.7" y1="635.69" x2="675.47" y2="635.69" stroke-width="1.9"/>
<rect x="666.53" y="615.65" width="10.11" height="13.23" fill="#FAC080" stroke-width="1.9"/>
<line x1="666.53" y1="622.26" x2="676.64" y2="622.26" stroke-width="1.9"/>
<path d="M551.01 530.71V663.55H684.2" fill="none" stroke-width="1.9"/>
<line x1="544.81" y1="531.66" x2="551.01" y2="531.66" stroke-width="1.9"/>
<text class="b" x="542.71" y="534.96" text-anchor="end">8</text>
<line x1="544.81" y1="564.73" x2="551.01" y2="564.73" stroke-width="1.9"/>
<text class="b" x="542.71" y="568.03" text-anchor="end">6</text>
<line x1="544.81" y1="597.61" x2="551.01" y2="597.61" stroke-width="1.9"/>
<text class="b" x="542.71" y="600.91" text-anchor="end">4</text>
<line x1="544.81" y1="630.68" x2="551.01" y2="630.68" stroke-width="1.9"/>
<text class="b" x="542.71" y="633.98" text-anchor="end">2</text>
<line x1="544.81" y1="663.55" x2="551.01" y2="663.55" stroke-width="1.9"/>
<text class="b" x="542.71" y="666.85" text-anchor="end">0</text>
<text class="n" transform="translate(531.56,597.61) rotate(-90)" text-anchor="middle">NPX</text>
<line x1="563.23" y1="663.55" x2="563.23" y2="670.75" stroke-width="1.9"/>
<text class="x" style="font-size:9.91px" transform="translate(565.63,678.55) rotate(-45)" text-anchor="end">0m</text>
<line x1="581.25" y1="663.55" x2="581.25" y2="670.75" stroke-width="1.9"/>
<text class="x" style="font-size:9.91px" transform="translate(583.65,678.55) rotate(-45)" text-anchor="end">6m</text>
<line x1="599.28" y1="663.55" x2="599.28" y2="670.75" stroke-width="1.9"/>
<text class="x" style="font-size:9.91px" transform="translate(601.68,678.55) rotate(-45)" text-anchor="end">12m</text>
<line x1="617.3" y1="663.55" x2="617.3" y2="670.75" stroke-width="1.9"/>
<text class="x" style="font-size:9.91px" transform="translate(619.7,678.55) rotate(-45)" text-anchor="end">0m</text>
<line x1="635.53" y1="663.55" x2="635.53" y2="670.75" stroke-width="1.9"/>
<text class="x" style="font-size:9.91px" transform="translate(637.93,678.55) rotate(-45)" text-anchor="end">6m</text>
<line x1="653.56" y1="663.55" x2="653.56" y2="670.75" stroke-width="1.9"/>
<text class="x" style="font-size:9.91px" transform="translate(655.96,678.55) rotate(-45)" text-anchor="end">12m</text>
<line x1="671.58" y1="663.55" x2="671.58" y2="670.75" stroke-width="1.9"/>
<text class="x" style="font-size:9.91px" transform="translate(673.98,678.55) rotate(-45)" text-anchor="end">CON</text>
<path d="M562.62 515.12V512.02H672.18V515.12" fill="none" stroke-width="1.85"/>
<text class="a" x="614.1" y="512.91" text-anchor="middle">*</text>
<path d="M616.9 525.14V522.04H672.18V525.14" fill="none" stroke-width="1.85"/>
<text class="a" x="643.14" y="523.13" text-anchor="middle">**</text>
<path d="M562.62 535.16V532.06H600.08V535.16" fill="none" stroke-width="1.85"/>
<text class="a" x="583.65" y="533.55" text-anchor="middle">**</text>
<path d="M614.5 535.16V532.06H651.35V535.16" fill="none" stroke-width="1.85"/>
<text class="s" x="632.73" y="529.95" text-anchor="middle">ns</text>
<path d="M654.16 535.16V532.06H672.79V535.16" fill="none" stroke-width="1.85"/>
<text class="s" x="663.37" y="529.95" text-anchor="middle">ns</text>
<path d="M597.07 546.19V543.09H670.58V546.19" fill="none" stroke-width="1.85"/>
<text class="s" x="631.12" y="540.98" text-anchor="middle">ns</text>
</g>
<g><!-- CXCL10 -->
<rect x="44.7" y="697.2" width="113.5" height="21.9" fill="#DEEAF6" stroke-width="1.9"/>
<text class="b" x="101.45" y="711.65" text-anchor="middle">CXCL10</text>
<line x1="37.61" y1="779.93" x2="160.19" y2="779.93" stroke-width="1.1" stroke-dasharray="1.1 1.5"/>
<line x1="48.02" y1="778.73" x2="48.02" y2="788.75" stroke-width="1.9"/>
<line x1="48.02" y1="827.23" x2="48.02" y2="838.66" stroke-width="1.9"/>
<line x1="44.39" y1="778.73" x2="51.66" y2="778.73" stroke-width="1.9"/>
<line x1="44.39" y1="838.66" x2="51.66" y2="838.66" stroke-width="1.9"/>
<rect x="43.29" y="788.75" width="9.46" height="38.48" fill="#4E57AB" stroke-width="1.9"/>
<line x1="43.29" y1="811.8" x2="52.75" y2="811.8" stroke-width="1.9"/>
<line x1="64.85" y1="782.54" x2="64.85" y2="786.14" stroke-width="1.9"/>
<line x1="64.85" y1="828.24" x2="64.85" y2="834.25" stroke-width="1.9"/>
<line x1="61.22" y1="782.54" x2="68.48" y2="782.54" stroke-width="1.9"/>
<line x1="61.22" y1="834.25" x2="68.48" y2="834.25" stroke-width="1.9"/>
<rect x="60.12" y="786.14" width="9.46" height="42.09" fill="#4E57AB" stroke-width="1.9"/>
<line x1="60.12" y1="816.81" x2="69.58" y2="816.81" stroke-width="1.9"/>
<line x1="81.87" y1="797.57" x2="81.87" y2="811.6" stroke-width="1.9"/>
<line x1="81.87" y1="839.06" x2="81.87" y2="858.7" stroke-width="1.9"/>
<line x1="78.24" y1="797.57" x2="85.5" y2="797.57" stroke-width="1.9"/>
<line x1="78.24" y1="858.7" x2="85.5" y2="858.7" stroke-width="1.9"/>
<rect x="77.14" y="811.6" width="9.46" height="27.46" fill="#3F4A92" stroke-width="1.9"/>
<line x1="77.14" y1="826.23" x2="86.6" y2="826.23" stroke-width="1.9"/>
<line x1="98.7" y1="780.13" x2="98.7" y2="786.55" stroke-width="1.9"/>
<line x1="98.7" y1="829.24" x2="98.7" y2="869.53" stroke-width="1.9"/>
<line x1="95.07" y1="780.13" x2="102.33" y2="780.13" stroke-width="1.9"/>
<line x1="95.07" y1="869.53" x2="102.33" y2="869.53" stroke-width="1.9"/>
<rect x="93.97" y="786.55" width="9.46" height="42.69" fill="#D9DBD8" stroke-width="1.9"/>
<line x1="93.97" y1="809.19" x2="103.43" y2="809.19" stroke-width="1.9"/>
<line x1="115.72" y1="776.92" x2="115.72" y2="789.55" stroke-width="1.9"/>
<line x1="115.72" y1="839.86" x2="115.72" y2="863.51" stroke-width="1.9"/>
<line x1="112.09" y1="776.92" x2="119.35" y2="776.92" stroke-width="1.9"/>
<line x1="112.09" y1="863.51" x2="119.35" y2="863.51" stroke-width="1.9"/>
<rect x="110.99" y="789.55" width="9.46" height="50.31" fill="#D9DBD8" stroke-width="1.9"/>
<line x1="110.99" y1="823.23" x2="120.45" y2="823.23" stroke-width="1.9"/>
<line x1="132.55" y1="766.7" x2="132.55" y2="794.96" stroke-width="1.9"/>
<line x1="132.55" y1="833.85" x2="132.55" y2="846.88" stroke-width="1.9"/>
<line x1="128.92" y1="766.7" x2="136.18" y2="766.7" stroke-width="1.9"/>
<line x1="128.92" y1="846.88" x2="136.18" y2="846.88" stroke-width="1.9"/>
<rect x="127.82" y="794.96" width="9.46" height="38.88" fill="#D9DBD8" stroke-width="1.9"/>
<line x1="127.82" y1="810.2" x2="137.28" y2="810.2" stroke-width="1.9"/>
<line x1="149.37" y1="790.15" x2="149.37" y2="807.79" stroke-width="1.9"/>
<line x1="149.37" y1="841.87" x2="149.37" y2="862.11" stroke-width="1.9"/>
<line x1="145.74" y1="790.15" x2="153" y2="790.15" stroke-width="1.9"/>
<line x1="145.74" y1="862.11" x2="153" y2="862.11" stroke-width="1.9"/>
<rect x="144.64" y="807.79" width="9.46" height="34.07" fill="#FAC080" stroke-width="1.9"/>
<line x1="144.64" y1="827.64" x2="154.1" y2="827.64" stroke-width="1.9"/>
<path d="M36.61 754.13V879.15H160.19" fill="none" stroke-width="1.9"/>
<line x1="30.41" y1="755.08" x2="36.61" y2="755.08" stroke-width="1.9"/>
<text class="b" x="28.31" y="758.38" text-anchor="end">0.5</text>
<line x1="30.41" y1="779.93" x2="36.61" y2="779.93" stroke-width="1.9"/>
<text class="b" x="28.31" y="783.23" text-anchor="end">0.0</text>
<line x1="30.41" y1="804.79" x2="36.61" y2="804.79" stroke-width="1.9"/>
<text class="b" x="28.31" y="808.09" text-anchor="end">-0.5</text>
<line x1="30.41" y1="829.44" x2="36.61" y2="829.44" stroke-width="1.9"/>
<text class="b" x="28.31" y="832.74" text-anchor="end">-1.0</text>
<line x1="30.41" y1="854.29" x2="36.61" y2="854.29" stroke-width="1.9"/>
<text class="b" x="28.31" y="857.59" text-anchor="end">-1.5</text>
<line x1="30.41" y1="879.15" x2="36.61" y2="879.15" stroke-width="1.9"/>
<text class="b" x="28.31" y="882.45" text-anchor="end">-2.0</text>
<text class="n" transform="translate(7.07,817.11) rotate(-90)" text-anchor="middle">NPX</text>
<line x1="48.02" y1="879.15" x2="48.02" y2="886.35" stroke-width="1.9"/>
<text class="x" style="font-size:9.27px" transform="translate(50.42,894.15) rotate(-45)" text-anchor="end">0m</text>
<line x1="64.85" y1="879.15" x2="64.85" y2="886.35" stroke-width="1.9"/>
<text class="x" style="font-size:9.27px" transform="translate(67.25,894.15) rotate(-45)" text-anchor="end">6m</text>
<line x1="81.87" y1="879.15" x2="81.87" y2="886.35" stroke-width="1.9"/>
<text class="x" style="font-size:9.27px" transform="translate(84.27,894.15) rotate(-45)" text-anchor="end">12m</text>
<line x1="98.7" y1="879.15" x2="98.7" y2="886.35" stroke-width="1.9"/>
<text class="x" style="font-size:9.27px" transform="translate(101.1,894.15) rotate(-45)" text-anchor="end">0m</text>
<line x1="115.72" y1="879.15" x2="115.72" y2="886.35" stroke-width="1.9"/>
<text class="x" style="font-size:9.27px" transform="translate(118.12,894.15) rotate(-45)" text-anchor="end">6m</text>
<line x1="132.55" y1="879.15" x2="132.55" y2="886.35" stroke-width="1.9"/>
<text class="x" style="font-size:9.27px" transform="translate(134.95,894.15) rotate(-45)" text-anchor="end">12m</text>
<line x1="149.37" y1="879.15" x2="149.37" y2="886.35" stroke-width="1.9"/>
<text class="x" style="font-size:9.27px" transform="translate(151.77,894.15) rotate(-45)" text-anchor="end">CON</text>
<path d="M47.42 736.13V733.03H149.77V736.13" fill="none" stroke-width="1.85"/>
<text class="a" x="93.69" y="733.92" text-anchor="middle">*</text>
<path d="M98.1 746.15V743.05H149.77V746.15" fill="none" stroke-width="1.85"/>
<text class="s" x="124.13" y="740.94" text-anchor="middle">ns</text>
<path d="M47.42 755.17V752.07H82.47V755.17" fill="none" stroke-width="1.85"/>
<text class="a" x="65.05" y="753.56" text-anchor="middle">*</text>
<path d="M95.69 755.17V752.07H130.14V755.17" fill="none" stroke-width="1.85"/>
<text class="s" x="115.12" y="749.96" text-anchor="middle">ns</text>
<path d="M132.75 755.17V752.07H150.17V755.17" fill="none" stroke-width="1.85"/>
<text class="s" x="141.76" y="749.56" text-anchor="middle">ns</text>
<path d="M79.67 765.19V762.09H148.17V765.19" fill="none" stroke-width="1.85"/>
<text class="s" x="111.12" y="759.98" text-anchor="middle">ns</text>
</g>
<g><!-- CASP-8 -->
<rect x="223.7" y="697.2" width="113.5" height="21.9" fill="#DEEAF6" stroke-width="1.9"/>
<text class="b" x="280.45" y="711.65" text-anchor="middle">CASP-8</text>
<line x1="213.81" y1="855.5" x2="346.2" y2="855.5" stroke-width="1.1" stroke-dasharray="1.1 1.5"/>
<line x1="224.82" y1="769.51" x2="224.82" y2="789.75" stroke-width="1.9"/>
<line x1="224.82" y1="824.23" x2="224.82" y2="838.86" stroke-width="1.9"/>
<line x1="221.02" y1="769.51" x2="228.63" y2="769.51" stroke-width="1.9"/>
<line x1="221.02" y1="838.86" x2="228.63" y2="838.86" stroke-width="1.9"/>
<rect x="219.87" y="789.75" width="9.91" height="34.48" fill="#4E57AB" stroke-width="1.9"/>
<line x1="219.87" y1="799.57" x2="229.78" y2="799.57" stroke-width="1.9"/>
<line x1="242.45" y1="822.22" x2="242.45" y2="827.64" stroke-width="1.9"/>
<line x1="242.45" y1="845.88" x2="242.45" y2="862.91" stroke-width="1.9"/>
<line x1="238.65" y1="822.22" x2="246.25" y2="822.22" stroke-width="1.9"/>
<line x1="238.65" y1="862.91" x2="246.25" y2="862.91" stroke-width="1.9"/>
<rect x="237.5" y="827.64" width="9.91" height="18.24" fill="#4E57AB" stroke-width="1.9"/>
<line x1="237.5" y1="841.67" x2="247.4" y2="841.67" stroke-width="1.9"/>
<line x1="260.08" y1="783.34" x2="260.08" y2="825.23" stroke-width="1.9"/>
<line x1="260.08" y1="845.47" x2="260.08" y2="853.09" stroke-width="1.9"/>
<line x1="256.27" y1="783.34" x2="263.88" y2="783.34" stroke-width="1.9"/>
<line x1="256.27" y1="853.09" x2="263.88" y2="853.09" stroke-width="1.9"/>
<rect x="255.12" y="825.23" width="9.91" height="20.24" fill="#3F4A92" stroke-width="1.9"/>
<line x1="255.12" y1="835.25" x2="265.03" y2="835.25" stroke-width="1.9"/>
<line x1="277.9" y1="778.73" x2="277.9" y2="790.55" stroke-width="1.9"/>
<line x1="277.9" y1="833.85" x2="277.9" y2="842.67" stroke-width="1.9"/>
<line x1="274.1" y1="778.73" x2="281.71" y2="778.73" stroke-width="1.9"/>
<line x1="274.1" y1="842.67" x2="281.71" y2="842.67" stroke-width="1.9"/>
<rect x="272.95" y="790.55" width="9.91" height="43.29" fill="#D9DBD8" stroke-width="1.9"/>
<line x1="272.95" y1="823.23" x2="282.86" y2="823.23" stroke-width="1.9"/>
<line x1="295.53" y1="789.95" x2="295.53" y2="797.57" stroke-width="1.9"/>
<line x1="295.53" y1="815.61" x2="295.53" y2="835.25" stroke-width="1.9"/>
<line x1="291.72" y1="789.95" x2="299.33" y2="789.95" stroke-width="1.9"/>
<line x1="291.72" y1="835.25" x2="299.33" y2="835.25" stroke-width="1.9"/>
<rect x="290.57" y="797.57" width="9.91" height="18.04" fill="#D9DBD8" stroke-width="1.9"/>
<line x1="290.57" y1="800.98" x2="300.48" y2="800.98" stroke-width="1.9"/>
<line x1="313.15" y1="790.15" x2="313.15" y2="811.8" stroke-width="1.9"/>
<line x1="313.15" y1="837.86" x2="313.15" y2="850.69" stroke-width="1.9"/>
<line x1="309.35" y1="790.15" x2="316.96" y2="790.15" stroke-width="1.9"/>
<line x1="309.35" y1="850.69" x2="316.96" y2="850.69" stroke-width="1.9"/>
<rect x="308.2" y="811.8" width="9.91" height="26.06" fill="#D9DBD8" stroke-width="1.9"/>
<line x1="308.2" y1="827.43" x2="318.11" y2="827.43" stroke-width="1.9"/>
<line x1="330.98" y1="802.38" x2="330.98" y2="827.84" stroke-width="1.9"/>
<line x1="330.98" y1="851.29" x2="330.98" y2="863.51" stroke-width="1.9"/>
<line x1="327.18" y1="802.38" x2="334.78" y2="802.38" stroke-width="1.9"/>
<line x1="327.18" y1="863.51" x2="334.78" y2="863.51" stroke-width="1.9"/>
<rect x="326.03" y="827.84" width="9.91" height="23.45" fill="#FAC080" stroke-width="1.9"/>
<line x1="326.03" y1="846.28" x2="335.93" y2="846.28" stroke-width="1.9"/>
<path d="M212.81 751.12V881.35H346.2" fill="none" stroke-width="1.9"/>
<line x1="206.61" y1="752.07" x2="212.81" y2="752.07" stroke-width="1.9"/>
<text class="b" x="204.51" y="755.37" text-anchor="end">8</text>
<line x1="206.61" y1="778.13" x2="212.81" y2="778.13" stroke-width="1.9"/>
<text class="b" x="204.51" y="781.43" text-anchor="end">6</text>
<line x1="206.61" y1="803.78" x2="212.81" y2="803.78" stroke-width="1.9"/>
<text class="b" x="204.51" y="807.08" text-anchor="end">4</text>
<line x1="206.61" y1="829.64" x2="212.81" y2="829.64" stroke-width="1.9"/>
<text class="b" x="204.51" y="832.94" text-anchor="end">2</text>
<line x1="206.61" y1="855.5" x2="212.81" y2="855.5" stroke-width="1.9"/>
<text class="b" x="204.51" y="858.8" text-anchor="end">0</text>
<line x1="206.61" y1="881.35" x2="212.81" y2="881.35" stroke-width="1.9"/>
<text class="b" x="204.51" y="884.65" text-anchor="end">-2</text>
<text class="n" transform="translate(190.78,816.71) rotate(-90)" text-anchor="middle">NPX</text>
<line x1="224.82" y1="881.35" x2="224.82" y2="888.55" stroke-width="1.9"/>
<text class="x" style="font-size:9.71px" transform="translate(227.22,896.35) rotate(-45)" text-anchor="end">0m</text>
<line x1="242.45" y1="881.35" x2="242.45" y2="888.55" stroke-width="1.9"/>
<text class="x" style="font-size:9.71px" transform="translate(244.85,896.35) rotate(-45)" text-anchor="end">6m</text>
<line x1="260.08" y1="881.35" x2="260.08" y2="888.55" stroke-width="1.9"/>
<text class="x" style="font-size:9.71px" transform="translate(262.48,896.35) rotate(-45)" text-anchor="end">12m</text>
<line x1="277.9" y1="881.35" x2="277.9" y2="888.55" stroke-width="1.9"/>
<text class="x" style="font-size:9.71px" transform="translate(280.3,896.35) rotate(-45)" text-anchor="end">0m</text>
<line x1="295.53" y1="881.35" x2="295.53" y2="888.55" stroke-width="1.9"/>
<text class="x" style="font-size:9.71px" transform="translate(297.93,896.35) rotate(-45)" text-anchor="end">6m</text>
<line x1="313.15" y1="881.35" x2="313.15" y2="888.55" stroke-width="1.9"/>
<text class="x" style="font-size:9.71px" transform="translate(315.55,896.35) rotate(-45)" text-anchor="end">12m</text>
<line x1="330.98" y1="881.35" x2="330.98" y2="888.55" stroke-width="1.9"/>
<text class="x" style="font-size:9.71px" transform="translate(333.38,896.35) rotate(-45)" text-anchor="end">CON</text>
<path d="M224.42 735.53V732.43H331.18V735.53" fill="none" stroke-width="1.85"/>
<text class="a" x="282.11" y="733.92" text-anchor="middle">***</text>
<path d="M276.7 744.75V741.65H331.18V744.75" fill="none" stroke-width="1.85"/>
<text class="a" x="306.54" y="743.94" text-anchor="middle">**</text>
<path d="M224.42 755.57V752.47H260.48V755.57" fill="none" stroke-width="1.85"/>
<text class="a" x="242.45" y="754.16" text-anchor="middle">*</text>
<path d="M276.7 755.17V752.07H312.15V755.17" fill="none" stroke-width="1.85"/>
<text class="s" x="294.73" y="749.96" text-anchor="middle">ns</text>
<path d="M316.76 754.77V751.67H334.79V754.77" fill="none" stroke-width="1.85"/>
<text class="a" x="324.97" y="753.56" text-anchor="middle">*</text>
<path d="M258.07 766.6V763.5H332.78V766.6" fill="none" stroke-width="1.85"/>
<text class="s" x="298.13" y="761.38" text-anchor="middle">ns</text>
</g>
<g><!-- ST1A1 -->
<rect x="386.2" y="697.2" width="114" height="21.9" fill="#DEEAF6" stroke-width="1.9"/>
<text class="b" x="443.2" y="711.65" text-anchor="middle">ST1A1</text>
<line x1="393.02" y1="780.73" x2="393.02" y2="784.74" stroke-width="1.9"/>
<line x1="393.02" y1="804.18" x2="393.02" y2="837.66" stroke-width="1.9"/>
<line x1="389.26" y1="780.73" x2="396.79" y2="780.73" stroke-width="1.9"/>
<line x1="389.26" y1="837.66" x2="396.79" y2="837.66" stroke-width="1.9"/>
<rect x="388.12" y="784.74" width="9.81" height="19.44" fill="#4E57AB" stroke-width="1.9"/>
<line x1="388.12" y1="794.56" x2="397.93" y2="794.56" stroke-width="1.9"/>
<line x1="410.65" y1="786.95" x2="410.65" y2="807.59" stroke-width="1.9"/>
<line x1="410.65" y1="832.85" x2="410.65" y2="837.86" stroke-width="1.9"/>
<line x1="406.88" y1="786.95" x2="414.42" y2="786.95" stroke-width="1.9"/>
<line x1="406.88" y1="837.86" x2="414.42" y2="837.86" stroke-width="1.9"/>
<rect x="405.74" y="807.59" width="9.81" height="25.26" fill="#4E57AB" stroke-width="1.9"/>
<line x1="405.74" y1="825.63" x2="415.56" y2="825.63" stroke-width="1.9"/>
<line x1="428.08" y1="785.34" x2="428.08" y2="801.78" stroke-width="1.9"/>
<line x1="428.08" y1="818.62" x2="428.08" y2="837.46" stroke-width="1.9"/>
<line x1="424.31" y1="785.34" x2="431.84" y2="785.34" stroke-width="1.9"/>
<line x1="424.31" y1="837.46" x2="431.84" y2="837.46" stroke-width="1.9"/>
<rect x="423.17" y="801.78" width="9.81" height="16.84" fill="#3F4A92" stroke-width="1.9"/>
<line x1="423.17" y1="809.6" x2="432.98" y2="809.6" stroke-width="1.9"/>
<line x1="445.7" y1="787.15" x2="445.7" y2="795.77" stroke-width="1.9"/>
<line x1="445.7" y1="824.63" x2="445.7" y2="835.05" stroke-width="1.9"/>
<line x1="441.93" y1="787.15" x2="449.47" y2="787.15" stroke-width="1.9"/>
<line x1="441.93" y1="835.05" x2="449.47" y2="835.05" stroke-width="1.9"/>
<rect x="440.79" y="795.77" width="9.81" height="28.86" fill="#D9DBD8" stroke-width="1.9"/>
<line x1="440.79" y1="803.58" x2="450.61" y2="803.58" stroke-width="1.9"/>
<line x1="463.13" y1="768.71" x2="463.13" y2="781.13" stroke-width="1.9"/>
<line x1="463.13" y1="804.79" x2="463.13" y2="834.25" stroke-width="1.9"/>
<line x1="459.36" y1="768.71" x2="466.9" y2="768.71" stroke-width="1.9"/>
<line x1="459.36" y1="834.25" x2="466.9" y2="834.25" stroke-width="1.9"/>
<rect x="458.22" y="781.13" width="9.81" height="23.65" fill="#D9DBD8" stroke-width="1.9"/>
<line x1="458.22" y1="788.75" x2="468.03" y2="788.75" stroke-width="1.9"/>
<line x1="480.55" y1="782.14" x2="480.55" y2="796.77" stroke-width="1.9"/>
<line x1="480.55" y1="818.21" x2="480.55" y2="845.47" stroke-width="1.9"/>
<line x1="476.78" y1="782.14" x2="484.32" y2="782.14" stroke-width="1.9"/>
<line x1="476.78" y1="845.47" x2="484.32" y2="845.47" stroke-width="1.9"/>
<rect x="475.65" y="796.77" width="9.81" height="21.45" fill="#D9DBD8" stroke-width="1.9"/>
<line x1="475.65" y1="816.21" x2="485.46" y2="816.21" stroke-width="1.9"/>
<line x1="498.18" y1="790.15" x2="498.18" y2="799.57" stroke-width="1.9"/>
<line x1="498.18" y1="831.24" x2="498.18" y2="846.48" stroke-width="1.9"/>
<line x1="494.41" y1="790.15" x2="501.95" y2="790.15" stroke-width="1.9"/>
<line x1="494.41" y1="846.48" x2="501.95" y2="846.48" stroke-width="1.9"/>
<rect x="493.27" y="799.57" width="9.81" height="31.67" fill="#FAC080" stroke-width="1.9"/>
<line x1="493.27" y1="823.83" x2="503.09" y2="823.83" stroke-width="1.9"/>
<path d="M381.41 749.12V878.35H509.8" fill="none" stroke-width="1.9"/>
<line x1="375.21" y1="750.07" x2="381.41" y2="750.07" stroke-width="1.9"/>
<text class="b" x="373.11" y="753.37" text-anchor="end">10</text>
<line x1="375.21" y1="775.72" x2="381.41" y2="775.72" stroke-width="1.9"/>
<text class="b" x="373.11" y="779.02" text-anchor="end">8</text>
<line x1="375.21" y1="801.38" x2="381.41" y2="801.38" stroke-width="1.9"/>
<text class="b" x="373.11" y="804.68" text-anchor="end">6</text>
<line x1="375.21" y1="827.03" x2="381.41" y2="827.03" stroke-width="1.9"/>
<text class="b" x="373.11" y="830.33" text-anchor="end">4</text>
<line x1="375.21" y1="852.69" x2="381.41" y2="852.69" stroke-width="1.9"/>
<text class="b" x="373.11" y="855.99" text-anchor="end">2</text>
<line x1="375.21" y1="878.35" x2="381.41" y2="878.35" stroke-width="1.9"/>
<text class="b" x="373.11" y="881.65" text-anchor="end">0</text>
<text class="n" transform="translate(356.82,814.21) rotate(-90)" text-anchor="middle">NPX</text>
<line x1="393.02" y1="878.35" x2="393.02" y2="885.55" stroke-width="1.9"/>
<text class="x" style="font-size:9.61px" transform="translate(395.42,893.35) rotate(-45)" text-anchor="end">0m</text>
<line x1="410.65" y1="878.35" x2="410.65" y2="885.55" stroke-width="1.9"/>
<text class="x" style="font-size:9.61px" transform="translate(413.05,893.35) rotate(-45)" text-anchor="end">6m</text>
<line x1="428.08" y1="878.35" x2="428.08" y2="885.55" stroke-width="1.9"/>
<text class="x" style="font-size:9.61px" transform="translate(430.48,893.35) rotate(-45)" text-anchor="end">12m</text>
<line x1="445.7" y1="878.35" x2="445.7" y2="885.55" stroke-width="1.9"/>
<text class="x" style="font-size:9.61px" transform="translate(448.1,893.35) rotate(-45)" text-anchor="end">0m</text>
<line x1="463.13" y1="878.35" x2="463.13" y2="885.55" stroke-width="1.9"/>
<text class="x" style="font-size:9.61px" transform="translate(465.53,893.35) rotate(-45)" text-anchor="end">6m</text>
<line x1="480.55" y1="878.35" x2="480.55" y2="885.55" stroke-width="1.9"/>
<text class="x" style="font-size:9.61px" transform="translate(482.95,893.35) rotate(-45)" text-anchor="end">12m</text>
<line x1="498.18" y1="878.35" x2="498.18" y2="885.55" stroke-width="1.9"/>
<text class="x" style="font-size:9.61px" transform="translate(500.58,893.35) rotate(-45)" text-anchor="end">CON</text>
<path d="M392.62 733.72V730.62H498.38V733.72" fill="none" stroke-width="1.85"/>
<text class="a" x="444.1" y="732.11" text-anchor="middle">**</text>
<path d="M445.5 743.75V740.65H498.38V743.75" fill="none" stroke-width="1.85"/>
<text class="s" x="470.74" y="738.94" text-anchor="middle">ns</text>
<path d="M392.62 753.17V750.07H428.68V753.17" fill="none" stroke-width="1.85"/>
<text class="a" x="411.05" y="751.96" text-anchor="middle">*</text>
<path d="M442.7 753.17V750.07H478.35V753.17" fill="none" stroke-width="1.85"/>
<text class="s" x="460.12" y="748.36" text-anchor="middle">ns</text>
<path d="M481.15 753.17V750.07H499.18V753.17" fill="none" stroke-width="1.85"/>
<text class="s" x="490.17" y="748.36" text-anchor="middle">ns</text>
<path d="M426.07 764.19V761.09H496.78V764.19" fill="none" stroke-width="1.85"/>
<text class="s" x="458.72" y="758.98" text-anchor="middle">ns</text>
</g>
<g><!-- ADA -->
<rect x="557.7" y="697.2" width="113.5" height="21.9" fill="#DEEAF6" stroke-width="1.9"/>
<text class="b" x="614.45" y="711.65" text-anchor="middle">ADA</text>
<line x1="562.02" y1="766.5" x2="562.02" y2="786.55" stroke-width="1.9"/>
<line x1="562.02" y1="826.23" x2="562.02" y2="836.86" stroke-width="1.9"/>
<line x1="558.16" y1="766.5" x2="565.89" y2="766.5" stroke-width="1.9"/>
<line x1="558.16" y1="836.86" x2="565.89" y2="836.86" stroke-width="1.9"/>
<rect x="556.99" y="786.55" width="10.08" height="39.69" fill="#4E57AB" stroke-width="1.9"/>
<line x1="556.99" y1="808.59" x2="567.06" y2="808.59" stroke-width="1.9"/>
<line x1="580.05" y1="796.77" x2="580.05" y2="824.63" stroke-width="1.9"/>
<line x1="580.05" y1="840.26" x2="580.05" y2="843.87" stroke-width="1.9"/>
<line x1="576.18" y1="796.77" x2="583.92" y2="796.77" stroke-width="1.9"/>
<line x1="576.18" y1="843.87" x2="583.92" y2="843.87" stroke-width="1.9"/>
<rect x="575.01" y="824.63" width="10.08" height="15.63" fill="#4E57AB" stroke-width="1.9"/>
<line x1="575.01" y1="835.65" x2="585.09" y2="835.65" stroke-width="1.9"/>
<line x1="598.08" y1="789.95" x2="598.08" y2="807.39" stroke-width="1.9"/>
<line x1="598.08" y1="837.46" x2="598.08" y2="857.5" stroke-width="1.9"/>
<line x1="594.21" y1="789.95" x2="601.95" y2="789.95" stroke-width="1.9"/>
<line x1="594.21" y1="857.5" x2="601.95" y2="857.5" stroke-width="1.9"/>
<rect x="593.04" y="807.39" width="10.08" height="30.07" fill="#3F4A92" stroke-width="1.9"/>
<line x1="593.04" y1="825.23" x2="603.12" y2="825.23" stroke-width="1.9"/>
<line x1="615.9" y1="790.55" x2="615.9" y2="812.8" stroke-width="1.9"/>
<line x1="615.9" y1="838.66" x2="615.9" y2="864.32" stroke-width="1.9"/>
<line x1="612.04" y1="790.55" x2="619.77" y2="790.55" stroke-width="1.9"/>
<line x1="612.04" y1="864.32" x2="619.77" y2="864.32" stroke-width="1.9"/>
<rect x="610.87" y="812.8" width="10.08" height="25.86" fill="#D9DBD8" stroke-width="1.9"/>
<line x1="610.87" y1="822.82" x2="620.94" y2="822.82" stroke-width="1.9"/>
<line x1="633.93" y1="780.33" x2="633.93" y2="815.81" stroke-width="1.9"/>
<line x1="633.93" y1="831.24" x2="633.93" y2="839.06" stroke-width="1.9"/>
<line x1="630.06" y1="780.33" x2="637.8" y2="780.33" stroke-width="1.9"/>
<line x1="630.06" y1="839.06" x2="637.8" y2="839.06" stroke-width="1.9"/>
<rect x="628.89" y="815.81" width="10.08" height="15.43" fill="#D9DBD8" stroke-width="1.9"/>
<line x1="628.89" y1="820.82" x2="638.97" y2="820.82" stroke-width="1.9"/>
<line x1="651.96" y1="779.73" x2="651.96" y2="813.2" stroke-width="1.9"/>
<line x1="651.96" y1="828.24" x2="651.96" y2="855.7" stroke-width="1.9"/>
<line x1="648.09" y1="779.73" x2="655.82" y2="779.73" stroke-width="1.9"/>
<line x1="648.09" y1="855.7" x2="655.82" y2="855.7" stroke-width="1.9"/>
<rect x="646.92" y="813.2" width="10.08" height="15.03" fill="#D9DBD8" stroke-width="1.9"/>
<line x1="646.92" y1="821.22" x2="656.99" y2="821.22" stroke-width="1.9"/>
<line x1="669.98" y1="795.77" x2="669.98" y2="828.64" stroke-width="1.9"/>
<line x1="669.98" y1="843.87" x2="669.98" y2="852.29" stroke-width="1.9"/>
<line x1="666.11" y1="795.77" x2="673.85" y2="795.77" stroke-width="1.9"/>
<line x1="666.11" y1="852.29" x2="673.85" y2="852.29" stroke-width="1.9"/>
<rect x="664.94" y="828.64" width="10.08" height="15.23" fill="#FAC080" stroke-width="1.9"/>
<line x1="664.94" y1="842.27" x2="675.02" y2="842.27" stroke-width="1.9"/>
<path d="M550.01 746.11V879.35H683.2" fill="none" stroke-width="1.9"/>
<line x1="543.81" y1="747.06" x2="550.01" y2="747.06" stroke-width="1.9"/>
<text class="b" x="541.71" y="750.36" text-anchor="end">6</text>
<line x1="543.81" y1="791.16" x2="550.01" y2="791.16" stroke-width="1.9"/>
<text class="b" x="541.71" y="794.46" text-anchor="end">4</text>
<line x1="543.81" y1="835.25" x2="550.01" y2="835.25" stroke-width="1.9"/>
<text class="b" x="541.71" y="838.55" text-anchor="end">2</text>
<line x1="543.81" y1="879.35" x2="550.01" y2="879.35" stroke-width="1.9"/>
<text class="b" x="541.71" y="882.65" text-anchor="end">0</text>
<text class="n" transform="translate(529.86,813.2) rotate(-90)" text-anchor="middle">NPX</text>
<line x1="562.02" y1="879.35" x2="562.02" y2="886.55" stroke-width="1.9"/>
<text class="x" style="font-size:9.87px" transform="translate(564.42,894.35) rotate(-45)" text-anchor="end">0m</text>
<line x1="580.05" y1="879.35" x2="580.05" y2="886.55" stroke-width="1.9"/>
<text class="x" style="font-size:9.87px" transform="translate(582.45,894.35) rotate(-45)" text-anchor="end">6m</text>
<line x1="598.08" y1="879.35" x2="598.08" y2="886.55" stroke-width="1.9"/>
<text class="x" style="font-size:9.87px" transform="translate(600.48,894.35) rotate(-45)" text-anchor="end">12m</text>
<line x1="615.9" y1="879.35" x2="615.9" y2="886.55" stroke-width="1.9"/>
<text class="x" style="font-size:9.87px" transform="translate(618.3,894.35) rotate(-45)" text-anchor="end">0m</text>
<line x1="633.93" y1="879.35" x2="633.93" y2="886.55" stroke-width="1.9"/>
<text class="x" style="font-size:9.87px" transform="translate(636.33,894.35) rotate(-45)" text-anchor="end">6m</text>
<line x1="651.96" y1="879.35" x2="651.96" y2="886.55" stroke-width="1.9"/>
<text class="x" style="font-size:9.87px" transform="translate(654.36,894.35) rotate(-45)" text-anchor="end">12m</text>
<line x1="669.98" y1="879.35" x2="669.98" y2="886.55" stroke-width="1.9"/>
<text class="x" style="font-size:9.87px" transform="translate(672.38,894.35) rotate(-45)" text-anchor="end">CON</text>
<path d="M561.62 730.72V727.62H670.58V730.72" fill="none" stroke-width="1.85"/>
<text class="a" x="616.5" y="728.91" text-anchor="middle">***</text>
<path d="M615.5 741.54V738.44H670.58V741.54" fill="none" stroke-width="1.85"/>
<text class="s" x="642.14" y="735.93" text-anchor="middle">ns</text>
<path d="M561.62 750.16V747.06H598.28V750.16" fill="none" stroke-width="1.85"/>
<text class="a" x="580.05" y="748.95" text-anchor="middle">*</text>
<path d="M613.1 750.16V747.06H649.55V750.16" fill="none" stroke-width="1.85"/>
<text class="s" x="631.13" y="745.35" text-anchor="middle">ns</text>
<path d="M652.56 750.16V747.06H671.18V750.16" fill="none" stroke-width="1.85"/>
<text class="a" x="661.77" y="748.55" text-anchor="middle">*</text>
<path d="M595.67 761.18V758.08H668.78V761.18" fill="none" stroke-width="1.85"/>
<text class="s" x="629.52" y="755.97" text-anchor="middle">ns</text>
</g>
</svg>
</body></html>
